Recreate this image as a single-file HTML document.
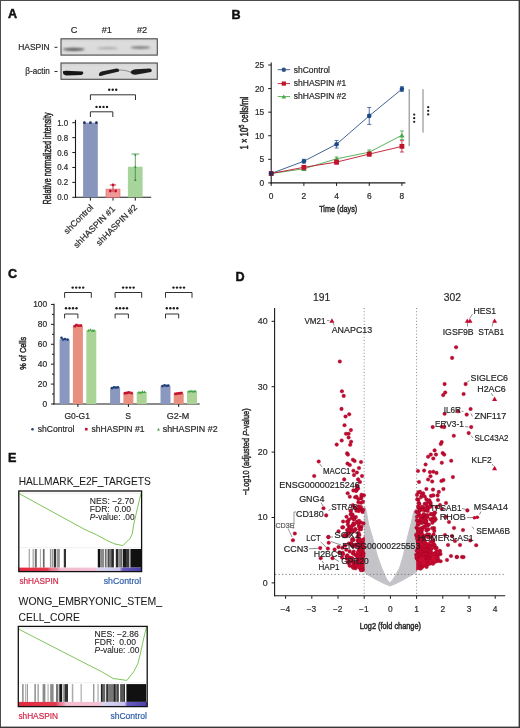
<!DOCTYPE html>
<html><head><meta charset="utf-8"><title>Figure</title>
<style>html,body{margin:0;padding:0;background:#fff;} svg{display:block;filter:blur(0.3px);} text{font-family:"Liberation Sans", sans-serif;}</style>
</head><body>
<svg width="520" height="728" viewBox="0 0 520 728" font-family='"Liberation Sans", sans-serif'>
<rect x="0" y="0" width="520" height="728" fill="#fff"/>
<text x="7.9" y="18.2" font-size="12.6" font-weight="bold" style="stroke:#111;stroke-width:0.45px" fill="#111">A</text>
<text x="74" y="32.6" font-size="9.2" text-anchor="middle" fill="#2a2a2a" stroke="#2a2a2a" stroke-width="0.2">C</text>
<text x="106.8" y="32.6" font-size="9.2" text-anchor="middle" fill="#2a2a2a" stroke="#2a2a2a" stroke-width="0.2">#1</text>
<text x="142" y="32.6" font-size="9.2" text-anchor="middle" fill="#2a2a2a" stroke="#2a2a2a" stroke-width="0.2">#2</text>
<text x="18.2" y="49.9" font-size="8.6" textLength="31.5" lengthAdjust="spacingAndGlyphs" fill="#2a2a2a" stroke="#2a2a2a" stroke-width="0.2">HASPIN</text>
<line x1="54.5" y1="47.3" x2="57.5" y2="47.3" stroke="#2a2a2a" stroke-width="1"/>
<text x="25.3" y="74.0" font-size="8.6" textLength="24.5" lengthAdjust="spacingAndGlyphs" fill="#2a2a2a" stroke="#2a2a2a" stroke-width="0.2">β-actin</text>
<line x1="54.5" y1="71.5" x2="57.5" y2="71.5" stroke="#2a2a2a" stroke-width="1"/>
<defs>
<linearGradient id="blotbg" x1="0" y1="0" x2="0" y2="1"><stop offset="0" stop-color="#d2d2d2"/><stop offset="0.25" stop-color="#dddddd"/><stop offset="1" stop-color="#dadada"/></linearGradient>
<filter id="bl1" x="-20%" y="-100%" width="140%" height="300%"><feGaussianBlur stdDeviation="0.9"/></filter>
<filter id="bl2" x="-20%" y="-100%" width="140%" height="300%"><feGaussianBlur stdDeviation="0.6"/></filter>
<filter id="soft" x="-5%" y="-5%" width="110%" height="110%"><feGaussianBlur stdDeviation="0.35"/></filter>
</defs>
<rect x="61" y="38.8" width="96.3" height="16.3" fill="url(#blotbg)" stroke="#4a4a4a" stroke-width="1.1"/>
<rect x="61" y="63.0" width="96.3" height="16.3" fill="url(#blotbg)" stroke="#4a4a4a" stroke-width="1.1"/>
<ellipse cx="73.8" cy="49.3" rx="11" ry="1.6" fill="#606060" filter="url(#bl1)"/>
<ellipse cx="107.5" cy="48.2" rx="10.5" ry="1.1" fill="#a8a8a8" filter="url(#bl1)"/>
<ellipse cx="140.5" cy="47.6" rx="10" ry="1.4" fill="#7c7c7c" filter="url(#bl1)"/>
<path d="M63 71.2 Q62.4 75.2 66.5 75.4 L81.5 75 Q84.5 73.5 82.5 71.6 L66 70.8 Z" fill="#161616" filter="url(#bl2)"/>
<path d="M99 75.6 Q98.4 72.6 101.5 71.4 L116.5 68.6 Q120 68.8 119 71.6 L104 75 Q100 76.4 99 75.6 Z" fill="#1c1c1c" filter="url(#bl2)"/>
<path d="M118.5 69.8 Q125 69.8 131 72.2" stroke="#7a7a7a" stroke-width="0.8" fill="none" filter="url(#bl2)"/>
<path d="M130.5 72.4 Q131.5 69.4 136 69.2 L150 68.6 Q153 70 151 72 L137 74.6 Q132 75.2 130.5 72.4 Z" fill="#1c1c1c" filter="url(#bl2)"/>
<line x1="75.5" y1="119.8" x2="75.5" y2="197.8" stroke="#1a1a1a" stroke-width="1.1"/>
<line x1="75.0" y1="197.3" x2="151.2" y2="197.3" stroke="#1a1a1a" stroke-width="1.1"/>
<line x1="72.3" y1="197.3" x2="75.5" y2="197.3" stroke="#1a1a1a" stroke-width="1"/>
<text x="68.2" y="200.3" font-size="8.4" text-anchor="end" textLength="11.0" lengthAdjust="spacingAndGlyphs" fill="#2a2a2a" stroke="#2a2a2a" stroke-width="0.2">0.0</text>
<line x1="72.3" y1="182.38000000000002" x2="75.5" y2="182.38000000000002" stroke="#1a1a1a" stroke-width="1"/>
<text x="68.2" y="185.38000000000002" font-size="8.4" text-anchor="end" textLength="11.0" lengthAdjust="spacingAndGlyphs" fill="#2a2a2a" stroke="#2a2a2a" stroke-width="0.2">0.2</text>
<line x1="72.3" y1="167.46" x2="75.5" y2="167.46" stroke="#1a1a1a" stroke-width="1"/>
<text x="68.2" y="170.46" font-size="8.4" text-anchor="end" textLength="11.0" lengthAdjust="spacingAndGlyphs" fill="#2a2a2a" stroke="#2a2a2a" stroke-width="0.2">0.4</text>
<line x1="72.3" y1="152.54000000000002" x2="75.5" y2="152.54000000000002" stroke="#1a1a1a" stroke-width="1"/>
<text x="68.2" y="155.54000000000002" font-size="8.4" text-anchor="end" textLength="11.0" lengthAdjust="spacingAndGlyphs" fill="#2a2a2a" stroke="#2a2a2a" stroke-width="0.2">0.6</text>
<line x1="72.3" y1="137.62" x2="75.5" y2="137.62" stroke="#1a1a1a" stroke-width="1"/>
<text x="68.2" y="140.62" font-size="8.4" text-anchor="end" textLength="11.0" lengthAdjust="spacingAndGlyphs" fill="#2a2a2a" stroke="#2a2a2a" stroke-width="0.2">0.8</text>
<line x1="72.3" y1="122.70000000000002" x2="75.5" y2="122.70000000000002" stroke="#1a1a1a" stroke-width="1"/>
<text x="68.2" y="125.70000000000002" font-size="8.4" text-anchor="end" textLength="11.0" lengthAdjust="spacingAndGlyphs" fill="#2a2a2a" stroke="#2a2a2a" stroke-width="0.2">1.0</text>
<line x1="90.4" y1="197.3" x2="90.4" y2="200.6" stroke="#1a1a1a" stroke-width="1"/>
<line x1="113" y1="197.3" x2="113" y2="200.6" stroke="#1a1a1a" stroke-width="1"/>
<line x1="135.3" y1="197.3" x2="135.3" y2="200.6" stroke="#1a1a1a" stroke-width="1"/>
<rect x="83.1" y="122.70000000000002" width="14.7" height="74.6" fill="#8895bd" stroke="none" stroke-width="0"/>
<rect x="106" y="189.09400000000002" width="14" height="8.205999999999989" fill="#ef9a9a" stroke="#e06060" stroke-width="0.6"/>
<rect x="127.9" y="166.71400000000003" width="14.7" height="30.585999999999984" fill="#a6d49a" stroke="none" stroke-width="0"/>
<circle cx="84.4" cy="122.7" r="1.35" fill="#1d2f5c"/>
<circle cx="90.4" cy="122.7" r="1.35" fill="#1d2f5c"/>
<circle cx="96.4" cy="122.7" r="1.35" fill="#1d2f5c"/>
<line x1="113" y1="184.991" x2="113" y2="192.078" stroke="#c0102a" stroke-width="0.8"/>
<line x1="109.8" y1="184.991" x2="116.2" y2="184.991" stroke="#c0102a" stroke-width="0.8"/>
<circle cx="113.0" cy="185.0" r="1.4" fill="#c0102a"/>
<circle cx="110.3" cy="191.0" r="1.4" fill="#c0102a"/>
<circle cx="115.7" cy="191.0" r="1.4" fill="#c0102a"/>
<line x1="135.3" y1="154.032" x2="135.3" y2="180.14200000000002" stroke="#3a8a3a" stroke-width="0.8"/>
<line x1="131.5" y1="154.032" x2="139.3" y2="154.032" stroke="#3a8a3a" stroke-width="0.8"/>
<path d="M134.0 167.8 L136.6 167.8 L135.3 165.6Z" fill="#3a8a3a"/>
<path d="M134.0 180.9 L136.6 180.9 L135.3 178.6Z" fill="#3a8a3a"/>
<path d="M134.1 155.8 L136.5 155.8 L135.3 153.7Z" fill="#3a8a3a"/>
<path d="M90.4 100.0 L90.4 94.8 L135.5 94.8 L135.5 100.0" fill="none" stroke="#1a1a1a" stroke-width="0.9"/>
<path d="M90.4 117.0 L90.4 111.8 L112.8 111.8 L112.8 117.0" fill="none" stroke="#1a1a1a" stroke-width="0.9"/>
<circle cx="109.2" cy="89.8" r="1.2" fill="#1a1a1a"/>
<circle cx="112.7" cy="89.8" r="1.2" fill="#1a1a1a"/>
<circle cx="116.2" cy="89.8" r="1.2" fill="#1a1a1a"/>
<circle cx="96.5" cy="106.9" r="1.2" fill="#1a1a1a"/>
<circle cx="100.0" cy="106.9" r="1.2" fill="#1a1a1a"/>
<circle cx="103.5" cy="106.9" r="1.2" fill="#1a1a1a"/>
<circle cx="107.0" cy="106.9" r="1.2" fill="#1a1a1a"/>
<text x="50.6" y="158.4" font-size="10.6" text-anchor="middle" textLength="92" lengthAdjust="spacingAndGlyphs" transform="rotate(-90 50.6 158.4)" style="stroke:#2a2a2a;stroke-width:0.5px" fill="#2a2a2a">Relative normalized intensity</text>
<text x="93.8" y="208.0" font-size="8.7" text-anchor="end" textLength="37.5" lengthAdjust="spacingAndGlyphs" transform="rotate(-45 93.8 208.0)" fill="#2a2a2a" stroke="#2a2a2a" stroke-width="0.2">shControl</text>
<text x="115.8" y="209.5" font-size="8.7" text-anchor="end" textLength="55" lengthAdjust="spacingAndGlyphs" transform="rotate(-45 115.8 209.5)" fill="#2a2a2a" stroke="#2a2a2a" stroke-width="0.2">shHASPIN #1</text>
<text x="137.6" y="208.0" font-size="8.7" text-anchor="end" textLength="54" lengthAdjust="spacingAndGlyphs" transform="rotate(-45 137.6 208.0)" fill="#2a2a2a" stroke="#2a2a2a" stroke-width="0.2">shHASPIN #2</text>
<text x="231.4" y="19.0" font-size="12.6" font-weight="bold" style="stroke:#111;stroke-width:0.45px" fill="#111">B</text>
<line x1="271.2" y1="62.5" x2="271.2" y2="183.4" stroke="#1a1a1a" stroke-width="1.1"/>
<line x1="270.7" y1="182.9" x2="405.4" y2="182.9" stroke="#1a1a1a" stroke-width="1.1"/>
<line x1="268.2" y1="182.9" x2="271.2" y2="182.9" stroke="#1a1a1a" stroke-width="1"/>
<text x="264.2" y="185.9" font-size="8.4" text-anchor="end" fill="#2a2a2a" stroke="#2a2a2a" stroke-width="0.2">0</text>
<line x1="268.2" y1="159.32" x2="271.2" y2="159.32" stroke="#1a1a1a" stroke-width="1"/>
<text x="264.2" y="162.32" font-size="8.4" text-anchor="end" fill="#2a2a2a" stroke="#2a2a2a" stroke-width="0.2">5</text>
<line x1="268.2" y1="135.74" x2="271.2" y2="135.74" stroke="#1a1a1a" stroke-width="1"/>
<text x="264.2" y="138.74" font-size="8.4" text-anchor="end" textLength="9.2" lengthAdjust="spacingAndGlyphs" fill="#2a2a2a" stroke="#2a2a2a" stroke-width="0.2">10</text>
<line x1="268.2" y1="112.16" x2="271.2" y2="112.16" stroke="#1a1a1a" stroke-width="1"/>
<text x="264.2" y="115.16" font-size="8.4" text-anchor="end" textLength="9.2" lengthAdjust="spacingAndGlyphs" fill="#2a2a2a" stroke="#2a2a2a" stroke-width="0.2">15</text>
<line x1="268.2" y1="88.58" x2="271.2" y2="88.58" stroke="#1a1a1a" stroke-width="1"/>
<text x="264.2" y="91.58" font-size="8.4" text-anchor="end" textLength="9.2" lengthAdjust="spacingAndGlyphs" fill="#2a2a2a" stroke="#2a2a2a" stroke-width="0.2">20</text>
<line x1="268.2" y1="65.0" x2="271.2" y2="65.0" stroke="#1a1a1a" stroke-width="1"/>
<text x="264.2" y="68.0" font-size="8.4" text-anchor="end" textLength="9.2" lengthAdjust="spacingAndGlyphs" fill="#2a2a2a" stroke="#2a2a2a" stroke-width="0.2">25</text>
<line x1="271.2" y1="182.9" x2="271.2" y2="185.9" stroke="#1a1a1a" stroke-width="1"/>
<text x="271.2" y="198.6" font-size="8.4" text-anchor="middle" fill="#2a2a2a" stroke="#2a2a2a" stroke-width="0.2">0</text>
<line x1="303.88" y1="182.9" x2="303.88" y2="185.9" stroke="#1a1a1a" stroke-width="1"/>
<text x="303.88" y="198.6" font-size="8.4" text-anchor="middle" fill="#2a2a2a" stroke="#2a2a2a" stroke-width="0.2">2</text>
<line x1="336.56" y1="182.9" x2="336.56" y2="185.9" stroke="#1a1a1a" stroke-width="1"/>
<text x="336.56" y="198.6" font-size="8.4" text-anchor="middle" fill="#2a2a2a" stroke="#2a2a2a" stroke-width="0.2">4</text>
<line x1="369.24" y1="182.9" x2="369.24" y2="185.9" stroke="#1a1a1a" stroke-width="1"/>
<text x="369.24" y="198.6" font-size="8.4" text-anchor="middle" fill="#2a2a2a" stroke="#2a2a2a" stroke-width="0.2">6</text>
<line x1="401.91999999999996" y1="182.9" x2="401.91999999999996" y2="185.9" stroke="#1a1a1a" stroke-width="1"/>
<text x="401.91999999999996" y="198.6" font-size="8.4" text-anchor="middle" fill="#2a2a2a" stroke="#2a2a2a" stroke-width="0.2">8</text>
<text x="338.2" y="212.2" font-size="9.8" text-anchor="middle" textLength="38" lengthAdjust="spacingAndGlyphs" style="stroke:#2a2a2a;stroke-width:0.5px" fill="#2a2a2a">Time (days)</text>
<text x="247.8" y="123.1" font-size="10.2" text-anchor="middle" transform="rotate(-90 247.8 123.1)" fill="#2a2a2a" stroke="#2a2a2a" stroke-width="0.5" textLength="52.8" lengthAdjust="spacingAndGlyphs">1 × 10<tspan font-size="7.4" dy="-3.8">5</tspan><tspan dy="3.8"> cells/ml</tspan></text>
<polyline points="271.2,173.5 303.9,161.2 336.6,144.2 369.2,115.9 401.9,89.1" fill="none" stroke="#2d5288" stroke-width="0.9"/>
<polyline points="271.2,173.5 303.9,168.8 336.6,158.8 369.2,152.2 401.9,135.3" fill="none" stroke="#4aa84a" stroke-width="0.9"/>
<polyline points="271.2,173.5 303.9,167.3 336.6,162.1 369.2,154.1 401.9,146.4" fill="none" stroke="#c0142c" stroke-width="0.9"/>
<circle cx="271.2" cy="173.5" r="2.3" fill="#1a4a88"/>
<line x1="303.88" y1="159.32" x2="303.88" y2="163.0928" stroke="#2d5288" stroke-width="0.8"/>
<line x1="301.88" y1="159.32" x2="305.88" y2="159.32" stroke="#2d5288" stroke-width="0.8"/>
<line x1="301.88" y1="163.0928" x2="305.88" y2="163.0928" stroke="#2d5288" stroke-width="0.8"/>
<circle cx="303.9" cy="161.2" r="2.3" fill="#1a4a88"/>
<line x1="336.56" y1="140.45600000000002" x2="336.56" y2="148.0016" stroke="#2d5288" stroke-width="0.8"/>
<line x1="334.56" y1="140.45600000000002" x2="338.56" y2="140.45600000000002" stroke="#2d5288" stroke-width="0.8"/>
<line x1="334.56" y1="148.0016" x2="338.56" y2="148.0016" stroke="#2d5288" stroke-width="0.8"/>
<circle cx="336.6" cy="144.2" r="2.3" fill="#1a4a88"/>
<line x1="369.24" y1="107.444" x2="369.24" y2="124.42160000000001" stroke="#2d5288" stroke-width="0.8"/>
<line x1="367.24" y1="107.444" x2="371.24" y2="107.444" stroke="#2d5288" stroke-width="0.8"/>
<line x1="367.24" y1="124.42160000000001" x2="371.24" y2="124.42160000000001" stroke="#2d5288" stroke-width="0.8"/>
<circle cx="369.2" cy="115.9" r="2.3" fill="#1a4a88"/>
<line x1="401.91999999999996" y1="86.6936" x2="401.91999999999996" y2="91.40960000000001" stroke="#2d5288" stroke-width="0.8"/>
<line x1="399.91999999999996" y1="86.6936" x2="403.91999999999996" y2="86.6936" stroke="#2d5288" stroke-width="0.8"/>
<line x1="399.91999999999996" y1="91.40960000000001" x2="403.91999999999996" y2="91.40960000000001" stroke="#2d5288" stroke-width="0.8"/>
<circle cx="401.9" cy="89.1" r="2.3" fill="#1a4a88"/>
<path d="M268.5 175.8 L273.9 175.8 L271.2 171.1Z" fill="#4aa84a"/>
<path d="M301.2 171.1 L306.6 171.1 L303.9 166.4Z" fill="#4aa84a"/>
<line x1="336.56" y1="156.962" x2="336.56" y2="160.7348" stroke="#4aa84a" stroke-width="0.8"/>
<line x1="334.56" y1="156.962" x2="338.56" y2="156.962" stroke="#4aa84a" stroke-width="0.8"/>
<line x1="334.56" y1="160.7348" x2="338.56" y2="160.7348" stroke="#4aa84a" stroke-width="0.8"/>
<path d="M333.9 161.2 L339.3 161.2 L336.6 156.5Z" fill="#4aa84a"/>
<line x1="369.24" y1="149.888" x2="369.24" y2="154.604" stroke="#4aa84a" stroke-width="0.8"/>
<line x1="367.24" y1="149.888" x2="371.24" y2="149.888" stroke="#4aa84a" stroke-width="0.8"/>
<line x1="367.24" y1="154.604" x2="371.24" y2="154.604" stroke="#4aa84a" stroke-width="0.8"/>
<path d="M366.5 154.6 L371.9 154.6 L369.2 149.9Z" fill="#4aa84a"/>
<line x1="401.91999999999996" y1="131.024" x2="401.91999999999996" y2="139.5128" stroke="#4aa84a" stroke-width="0.8"/>
<line x1="399.91999999999996" y1="131.024" x2="403.91999999999996" y2="131.024" stroke="#4aa84a" stroke-width="0.8"/>
<line x1="399.91999999999996" y1="139.5128" x2="403.91999999999996" y2="139.5128" stroke="#4aa84a" stroke-width="0.8"/>
<path d="M399.2 137.6 L404.6 137.6 L401.9 132.9Z" fill="#4aa84a"/>
<rect x="268.8" y="171.068" width="4.8" height="4.8" fill="#c0142c" stroke="none" stroke-width="0"/>
<line x1="303.88" y1="165.45080000000002" x2="303.88" y2="169.2236" stroke="#c0142c" stroke-width="0.8"/>
<line x1="301.88" y1="165.45080000000002" x2="305.88" y2="165.45080000000002" stroke="#c0142c" stroke-width="0.8"/>
<line x1="301.88" y1="169.2236" x2="305.88" y2="169.2236" stroke="#c0142c" stroke-width="0.8"/>
<rect x="301.48" y="164.9372" width="4.8" height="4.8" fill="#c0142c" stroke="none" stroke-width="0"/>
<line x1="336.56" y1="160.2632" x2="336.56" y2="164.036" stroke="#c0142c" stroke-width="0.8"/>
<line x1="334.56" y1="160.2632" x2="338.56" y2="160.2632" stroke="#c0142c" stroke-width="0.8"/>
<line x1="334.56" y1="164.036" x2="338.56" y2="164.036" stroke="#c0142c" stroke-width="0.8"/>
<rect x="334.16" y="159.7496" width="4.8" height="4.8" fill="#c0142c" stroke="none" stroke-width="0"/>
<line x1="369.24" y1="152.246" x2="369.24" y2="156.0188" stroke="#c0142c" stroke-width="0.8"/>
<line x1="367.24" y1="152.246" x2="371.24" y2="152.246" stroke="#c0142c" stroke-width="0.8"/>
<line x1="367.24" y1="156.0188" x2="371.24" y2="156.0188" stroke="#c0142c" stroke-width="0.8"/>
<rect x="366.84000000000003" y="151.7324" width="4.8" height="4.8" fill="#c0142c" stroke="none" stroke-width="0"/>
<line x1="401.91999999999996" y1="140.6918" x2="401.91999999999996" y2="152.0102" stroke="#c0142c" stroke-width="0.8"/>
<line x1="399.91999999999996" y1="140.6918" x2="403.91999999999996" y2="140.6918" stroke="#c0142c" stroke-width="0.8"/>
<line x1="399.91999999999996" y1="152.0102" x2="403.91999999999996" y2="152.0102" stroke="#c0142c" stroke-width="0.8"/>
<rect x="399.52" y="143.951" width="4.8" height="4.8" fill="#c0142c" stroke="none" stroke-width="0"/>
<circle cx="271.2" cy="173.5" r="2.3" fill="#2a2a5a"/>
<line x1="277.7" y1="69.7" x2="290.1" y2="69.7" stroke="#2d5288" stroke-width="0.9"/>
<circle cx="283.8" cy="69.7" r="2.2" fill="#2d5288"/>
<text x="293.8" y="72.5" font-size="8.4" textLength="36.2" lengthAdjust="spacingAndGlyphs" fill="#2a2a2a" stroke="#2a2a2a" stroke-width="0.2">shControl</text>
<line x1="277.7" y1="83.6" x2="290.1" y2="83.6" stroke="#c0142c" stroke-width="0.9"/>
<rect x="281.7" y="81.5" width="4.2" height="4.2" fill="#c0142c" stroke="none" stroke-width="0"/>
<text x="293.8" y="86.39999999999999" font-size="8.4" textLength="52.5" lengthAdjust="spacingAndGlyphs" fill="#2a2a2a" stroke="#2a2a2a" stroke-width="0.2">shHASPIN #1</text>
<line x1="277.7" y1="96.6" x2="290.1" y2="96.6" stroke="#4aa84a" stroke-width="0.9"/>
<path d="M281.5 98.6 L286.1 98.6 L283.8 94.6Z" fill="#4aa84a"/>
<text x="293.8" y="99.39999999999999" font-size="8.4" textLength="52.5" lengthAdjust="spacingAndGlyphs" fill="#2a2a2a" stroke="#2a2a2a" stroke-width="0.2">shHASPIN #2</text>
<line x1="409.2" y1="89.2" x2="409.2" y2="146.2" stroke="#3a3a3a" stroke-width="0.65"/>
<line x1="423" y1="89.2" x2="423" y2="132.6" stroke="#3a3a3a" stroke-width="0.65"/>
<circle cx="414.2" cy="114.6" r="1.15" fill="#222"/>
<circle cx="414.2" cy="118.2" r="1.15" fill="#222"/>
<circle cx="414.2" cy="121.8" r="1.15" fill="#222"/>
<circle cx="428.2" cy="107.2" r="1.15" fill="#222"/>
<circle cx="428.2" cy="110.8" r="1.15" fill="#222"/>
<circle cx="428.2" cy="114.4" r="1.15" fill="#222"/>
<text x="7.9" y="278.4" font-size="12.6" font-weight="bold" style="stroke:#111;stroke-width:0.45px" fill="#111">C</text>
<line x1="54.0" y1="303.8" x2="54.0" y2="404.5" stroke="#1a1a1a" stroke-width="1.1"/>
<line x1="53.5" y1="404.0" x2="199.7" y2="404.0" stroke="#1a1a1a" stroke-width="1.1"/>
<line x1="51.0" y1="404.0" x2="54.0" y2="404.0" stroke="#1a1a1a" stroke-width="1"/>
<text x="47.2" y="407.0" font-size="8.4" text-anchor="end" fill="#2a2a2a" stroke="#2a2a2a" stroke-width="0.2">0</text>
<line x1="52.0" y1="394.045" x2="54.0" y2="394.045" stroke="#1a1a1a" stroke-width="1"/>
<line x1="51.0" y1="384.09" x2="54.0" y2="384.09" stroke="#1a1a1a" stroke-width="1"/>
<text x="47.2" y="387.09" font-size="8.4" text-anchor="end" fill="#2a2a2a" stroke="#2a2a2a" stroke-width="0.2">20</text>
<line x1="52.0" y1="374.135" x2="54.0" y2="374.135" stroke="#1a1a1a" stroke-width="1"/>
<line x1="51.0" y1="364.18" x2="54.0" y2="364.18" stroke="#1a1a1a" stroke-width="1"/>
<text x="47.2" y="367.18" font-size="8.4" text-anchor="end" fill="#2a2a2a" stroke="#2a2a2a" stroke-width="0.2">40</text>
<line x1="52.0" y1="354.225" x2="54.0" y2="354.225" stroke="#1a1a1a" stroke-width="1"/>
<line x1="51.0" y1="344.27" x2="54.0" y2="344.27" stroke="#1a1a1a" stroke-width="1"/>
<text x="47.2" y="347.27" font-size="8.4" text-anchor="end" fill="#2a2a2a" stroke="#2a2a2a" stroke-width="0.2">60</text>
<line x1="52.0" y1="334.315" x2="54.0" y2="334.315" stroke="#1a1a1a" stroke-width="1"/>
<line x1="51.0" y1="324.36" x2="54.0" y2="324.36" stroke="#1a1a1a" stroke-width="1"/>
<text x="47.2" y="327.36" font-size="8.4" text-anchor="end" fill="#2a2a2a" stroke="#2a2a2a" stroke-width="0.2">80</text>
<line x1="52.0" y1="314.405" x2="54.0" y2="314.405" stroke="#1a1a1a" stroke-width="1"/>
<line x1="51.0" y1="304.45" x2="54.0" y2="304.45" stroke="#1a1a1a" stroke-width="1"/>
<text x="47.2" y="307.45" font-size="8.4" text-anchor="end" fill="#2a2a2a" stroke="#2a2a2a" stroke-width="0.2">100</text>
<rect x="59.599999999999994" y="339.2925" width="10" height="64.70749999999998" fill="#8a97bf" stroke="none" stroke-width="0"/>
<rect x="72.9" y="325.85325" width="10" height="78.14675" fill="#e88f80" stroke="none" stroke-width="0"/>
<rect x="86.3" y="330.33299999999997" width="10" height="73.66700000000003" fill="#a9d495" stroke="none" stroke-width="0"/>
<line x1="77.9" y1="404.0" x2="77.9" y2="407.0" stroke="#1a1a1a" stroke-width="1"/>
<rect x="110.1" y="388.072" width="10" height="15.927999999999997" fill="#8a97bf" stroke="none" stroke-width="0"/>
<rect x="123.4" y="393.0495" width="10" height="10.950499999999977" fill="#e88f80" stroke="none" stroke-width="0"/>
<rect x="136.7" y="392.054" width="10" height="11.946000000000026" fill="#a9d495" stroke="none" stroke-width="0"/>
<line x1="128.4" y1="404.0" x2="128.4" y2="407.0" stroke="#1a1a1a" stroke-width="1"/>
<rect x="160.5" y="386.081" width="10" height="17.918999999999983" fill="#8a97bf" stroke="none" stroke-width="0"/>
<rect x="173.7" y="393.54725" width="10" height="10.45274999999998" fill="#e88f80" stroke="none" stroke-width="0"/>
<rect x="187" y="391.0585" width="10" height="12.941500000000019" fill="#a9d495" stroke="none" stroke-width="0"/>
<line x1="178.7" y1="404.0" x2="178.7" y2="407.0" stroke="#1a1a1a" stroke-width="1"/>
<circle cx="61.5" cy="337.8" r="1.35" fill="#1f3f78"/>
<circle cx="63.0" cy="339.5" r="1.35" fill="#1f3f78"/>
<circle cx="65.0" cy="339.1" r="1.35" fill="#1f3f78"/>
<circle cx="67.5" cy="339.6" r="1.35" fill="#1f3f78"/>
<rect x="73.5" y="324.8519" width="2.6" height="2.6" fill="#c4122e" stroke="none" stroke-width="0"/>
<rect x="75.2" y="323.75685" width="2.6" height="2.6" fill="#c4122e" stroke="none" stroke-width="0"/>
<rect x="77.2" y="324.35414999999995" width="2.6" height="2.6" fill="#c4122e" stroke="none" stroke-width="0"/>
<rect x="79.5" y="324.2546" width="2.6" height="2.6" fill="#c4122e" stroke="none" stroke-width="0"/>
<path d="M87.0 331.6 L90.0 331.6 L88.5 329.0Z" fill="#3fa03f"/>
<path d="M89.0 330.8 L92.0 330.8 L90.5 328.2Z" fill="#3fa03f"/>
<path d="M91.0 331.8 L94.0 331.8 L92.5 329.2Z" fill="#3fa03f"/>
<path d="M92.5 331.5 L95.5 331.5 L94.0 328.9Z" fill="#3fa03f"/>
<circle cx="112.0" cy="388.1" r="1.35" fill="#1f3f78"/>
<circle cx="114.0" cy="387.3" r="1.35" fill="#1f3f78"/>
<circle cx="116.0" cy="387.6" r="1.35" fill="#1f3f78"/>
<circle cx="118.0" cy="387.3" r="1.35" fill="#1f3f78"/>
<rect x="123.7" y="391.9486" width="2.6" height="2.6" fill="#c4122e" stroke="none" stroke-width="0"/>
<rect x="125.7" y="391.55039999999997" width="2.6" height="2.6" fill="#c4122e" stroke="none" stroke-width="0"/>
<rect x="127.7" y="391.1522" width="2.6" height="2.6" fill="#c4122e" stroke="none" stroke-width="0"/>
<rect x="130.2" y="391.7495" width="2.6" height="2.6" fill="#c4122e" stroke="none" stroke-width="0"/>
<path d="M137.5 393.4 L140.5 393.4 L139.0 390.7Z" fill="#3fa03f"/>
<path d="M139.5 393.6 L142.5 393.6 L141.0 390.9Z" fill="#3fa03f"/>
<path d="M141.1 392.9 L144.1 392.9 L142.6 390.3Z" fill="#3fa03f"/>
<path d="M143.1 393.1 L146.1 393.1 L144.6 390.5Z" fill="#3fa03f"/>
<circle cx="162.5" cy="386.1" r="1.35" fill="#1f3f78"/>
<circle cx="164.5" cy="385.3" r="1.35" fill="#1f3f78"/>
<circle cx="166.5" cy="385.8" r="1.35" fill="#1f3f78"/>
<circle cx="168.3" cy="385.6" r="1.35" fill="#1f3f78"/>
<rect x="174.2" y="392.5459" width="2.6" height="2.6" fill="#c4122e" stroke="none" stroke-width="0"/>
<rect x="176.2" y="392.24725" width="2.6" height="2.6" fill="#c4122e" stroke="none" stroke-width="0"/>
<rect x="178.2" y="391.9486" width="2.6" height="2.6" fill="#c4122e" stroke="none" stroke-width="0"/>
<rect x="180.2" y="391.7495" width="2.6" height="2.6" fill="#c4122e" stroke="none" stroke-width="0"/>
<path d="M187.5 392.4 L190.5 392.4 L189.0 389.8Z" fill="#3fa03f"/>
<path d="M189.5 392.1 L192.5 392.1 L191.0 389.5Z" fill="#3fa03f"/>
<path d="M191.5 392.4 L194.5 392.4 L193.0 389.8Z" fill="#3fa03f"/>
<path d="M193.5 392.2 L196.5 392.2 L195.0 389.6Z" fill="#3fa03f"/>
<path d="M64.6 297.8 L64.6 292.5 L91.3 292.5 L91.3 297.8" fill="none" stroke="#1a1a1a" stroke-width="0.9"/>
<path d="M64.6 318.4 L64.6 314.0 L77.9 314.0 L77.9 318.4" fill="none" stroke="#1a1a1a" stroke-width="0.9"/>
<circle cx="72.7" cy="287.6" r="1.2" fill="#1a1a1a"/>
<circle cx="76.2" cy="287.6" r="1.2" fill="#1a1a1a"/>
<circle cx="79.7" cy="287.6" r="1.2" fill="#1a1a1a"/>
<circle cx="83.2" cy="287.6" r="1.2" fill="#1a1a1a"/>
<circle cx="66.0" cy="308.3" r="1.2" fill="#1a1a1a"/>
<circle cx="69.5" cy="308.3" r="1.2" fill="#1a1a1a"/>
<circle cx="73.0" cy="308.3" r="1.2" fill="#1a1a1a"/>
<circle cx="76.5" cy="308.3" r="1.2" fill="#1a1a1a"/>
<path d="M115.1 297.8 L115.1 292.5 L141.7 292.5 L141.7 297.8" fill="none" stroke="#1a1a1a" stroke-width="0.9"/>
<path d="M115.1 318.4 L115.1 314.0 L128.4 314.0 L128.4 318.4" fill="none" stroke="#1a1a1a" stroke-width="0.9"/>
<circle cx="123.1" cy="287.6" r="1.2" fill="#1a1a1a"/>
<circle cx="126.6" cy="287.6" r="1.2" fill="#1a1a1a"/>
<circle cx="130.1" cy="287.6" r="1.2" fill="#1a1a1a"/>
<circle cx="133.6" cy="287.6" r="1.2" fill="#1a1a1a"/>
<circle cx="116.5" cy="308.3" r="1.2" fill="#1a1a1a"/>
<circle cx="120.0" cy="308.3" r="1.2" fill="#1a1a1a"/>
<circle cx="123.5" cy="308.3" r="1.2" fill="#1a1a1a"/>
<circle cx="127.0" cy="308.3" r="1.2" fill="#1a1a1a"/>
<path d="M165.5 297.8 L165.5 292.5 L192 292.5 L192 297.8" fill="none" stroke="#1a1a1a" stroke-width="0.9"/>
<path d="M165.5 318.4 L165.5 314.0 L178.7 314.0 L178.7 318.4" fill="none" stroke="#1a1a1a" stroke-width="0.9"/>
<circle cx="173.5" cy="287.6" r="1.2" fill="#1a1a1a"/>
<circle cx="177.0" cy="287.6" r="1.2" fill="#1a1a1a"/>
<circle cx="180.5" cy="287.6" r="1.2" fill="#1a1a1a"/>
<circle cx="184.0" cy="287.6" r="1.2" fill="#1a1a1a"/>
<circle cx="166.8" cy="308.3" r="1.2" fill="#1a1a1a"/>
<circle cx="170.3" cy="308.3" r="1.2" fill="#1a1a1a"/>
<circle cx="173.8" cy="308.3" r="1.2" fill="#1a1a1a"/>
<circle cx="177.3" cy="308.3" r="1.2" fill="#1a1a1a"/>
<text x="77.2" y="418.7" font-size="8.6" text-anchor="middle" textLength="25.5" lengthAdjust="spacingAndGlyphs" fill="#2a2a2a" stroke="#2a2a2a" stroke-width="0.2">G0-G1</text>
<text x="128" y="418.7" font-size="8.6" text-anchor="middle" fill="#2a2a2a" stroke="#2a2a2a" stroke-width="0.2">S</text>
<text x="177.9" y="418.7" font-size="8.6" text-anchor="middle" textLength="22.5" lengthAdjust="spacingAndGlyphs" fill="#2a2a2a" stroke="#2a2a2a" stroke-width="0.2">G2-M</text>
<circle cx="32.5" cy="429.2" r="1.3" fill="#1f3f78"/>
<text x="37.7" y="432.1" font-size="8.6" textLength="36.6" lengthAdjust="spacingAndGlyphs" fill="#2a2a2a" stroke="#2a2a2a" stroke-width="0.2">shControl</text>
<rect x="85.0" y="427.9" width="2.6" height="2.6" fill="#c4122e" stroke="none" stroke-width="0"/>
<text x="91.5" y="432.1" font-size="8.6" textLength="53" lengthAdjust="spacingAndGlyphs" fill="#2a2a2a" stroke="#2a2a2a" stroke-width="0.2">shHASPIN #1</text>
<path d="M157.0 430.5 L160.0 430.5 L158.5 427.9Z" fill="#3fa03f"/>
<text x="162.7" y="432.1" font-size="8.6" textLength="55" lengthAdjust="spacingAndGlyphs" fill="#2a2a2a" stroke="#2a2a2a" stroke-width="0.2">shHASPIN #2</text>
<text x="25.6" y="353.3" font-size="9.8" text-anchor="middle" textLength="33" lengthAdjust="spacingAndGlyphs" transform="rotate(-90 25.6 353.3)" style="stroke:#2a2a2a;stroke-width:0.5px" fill="#2a2a2a">% of Cells</text>
<text x="235.6" y="280.9" font-size="12.6" font-weight="bold" style="stroke:#111;stroke-width:0.45px" fill="#111">D</text>
<path stroke="#c4c4c8" stroke-width="1" stroke-linejoin="round" d="M364.4 506 L366 510 L368.7 525 L372.4 537 L377.3 555.7 L381.7 568 L386.6 579 L389.8 583 L393.4 579 L399.6 568 L403.3 555.7 L407.6 537 L410.7 525 L413.8 512 L416.6 508 L416.6 572 L410 576 L402 580.5 L396 583.5 L390 586 L384 583.5 L376 579.5 L368 575 L364.4 572 Z" fill="#c4c4c8"/>
<line x1="364.2" y1="308" x2="364.2" y2="595" stroke="#777" stroke-width="0.9" stroke-dasharray="1 2.2"/>
<line x1="416.6" y1="308" x2="416.6" y2="595" stroke="#777" stroke-width="0.9" stroke-dasharray="1 2.2"/>
<line x1="275" y1="574.4" x2="504" y2="574.4" stroke="#777" stroke-width="0.9" stroke-dasharray="1.3 2.2"/>
<path d="M361 540 L364.6 536 L364.6 570 L359 570 L355 565 L356 552 Z" fill="#cc0a30"/>
<path d="M416.2 530 L422 528 L426 540 L431 550 L439 556 L440 562 L416.2 570.5 Z" fill="#cc0a30"/>
<circle cx="356.2" cy="490.4" r="1.8" fill="#c40a30" stroke="#98001f" stroke-width="0.35"/>
<circle cx="353.0" cy="516.5" r="1.8" fill="#c40a30" stroke="#98001f" stroke-width="0.35"/>
<circle cx="349.9" cy="557.6" r="1.8" fill="#c40a30" stroke="#98001f" stroke-width="0.35"/>
<circle cx="355.6" cy="568.3" r="1.8" fill="#c40a30" stroke="#98001f" stroke-width="0.35"/>
<circle cx="354.2" cy="519.3" r="1.8" fill="#c40a30" stroke="#98001f" stroke-width="0.35"/>
<circle cx="362.0" cy="509.8" r="1.8" fill="#c40a30" stroke="#98001f" stroke-width="0.35"/>
<circle cx="346.6" cy="556.6" r="1.8" fill="#c40a30" stroke="#98001f" stroke-width="0.35"/>
<circle cx="355.9" cy="517.1" r="1.8" fill="#c40a30" stroke="#98001f" stroke-width="0.35"/>
<circle cx="357.1" cy="522.1" r="1.8" fill="#c40a30" stroke="#98001f" stroke-width="0.35"/>
<circle cx="346.8" cy="536.1" r="1.8" fill="#c40a30" stroke="#98001f" stroke-width="0.35"/>
<circle cx="350.7" cy="510.7" r="1.8" fill="#c40a30" stroke="#98001f" stroke-width="0.35"/>
<circle cx="360.2" cy="546.2" r="1.8" fill="#c40a30" stroke="#98001f" stroke-width="0.35"/>
<circle cx="344.8" cy="535.1" r="1.8" fill="#c40a30" stroke="#98001f" stroke-width="0.35"/>
<circle cx="352.7" cy="561.9" r="1.8" fill="#c40a30" stroke="#98001f" stroke-width="0.35"/>
<circle cx="358.4" cy="509.6" r="1.8" fill="#c40a30" stroke="#98001f" stroke-width="0.35"/>
<circle cx="349.7" cy="551.4" r="1.8" fill="#c40a30" stroke="#98001f" stroke-width="0.35"/>
<circle cx="359.4" cy="535.0" r="1.8" fill="#c40a30" stroke="#98001f" stroke-width="0.35"/>
<circle cx="362.5" cy="511.9" r="1.8" fill="#c40a30" stroke="#98001f" stroke-width="0.35"/>
<circle cx="357.5" cy="536.9" r="1.8" fill="#c40a30" stroke="#98001f" stroke-width="0.35"/>
<circle cx="354.2" cy="524.6" r="1.8" fill="#c40a30" stroke="#98001f" stroke-width="0.35"/>
<circle cx="361.5" cy="568.1" r="1.8" fill="#c40a30" stroke="#98001f" stroke-width="0.35"/>
<circle cx="351.3" cy="543.1" r="1.8" fill="#c40a30" stroke="#98001f" stroke-width="0.35"/>
<circle cx="361.0" cy="509.3" r="1.8" fill="#c40a30" stroke="#98001f" stroke-width="0.35"/>
<circle cx="348.8" cy="543.5" r="1.8" fill="#c40a30" stroke="#98001f" stroke-width="0.35"/>
<circle cx="348.9" cy="561.6" r="1.8" fill="#c40a30" stroke="#98001f" stroke-width="0.35"/>
<circle cx="353.4" cy="562.6" r="1.8" fill="#c40a30" stroke="#98001f" stroke-width="0.35"/>
<circle cx="360.9" cy="560.9" r="1.8" fill="#c40a30" stroke="#98001f" stroke-width="0.35"/>
<circle cx="348.0" cy="562.7" r="1.8" fill="#c40a30" stroke="#98001f" stroke-width="0.35"/>
<circle cx="354.5" cy="507.4" r="1.8" fill="#c40a30" stroke="#98001f" stroke-width="0.35"/>
<circle cx="348.3" cy="534.4" r="1.8" fill="#c40a30" stroke="#98001f" stroke-width="0.35"/>
<circle cx="352.4" cy="539.0" r="1.8" fill="#c40a30" stroke="#98001f" stroke-width="0.35"/>
<circle cx="356.9" cy="488.8" r="1.8" fill="#c40a30" stroke="#98001f" stroke-width="0.35"/>
<circle cx="363.2" cy="553.4" r="1.8" fill="#c40a30" stroke="#98001f" stroke-width="0.35"/>
<circle cx="362.5" cy="555.0" r="1.8" fill="#c40a30" stroke="#98001f" stroke-width="0.35"/>
<circle cx="349.0" cy="519.5" r="1.8" fill="#c40a30" stroke="#98001f" stroke-width="0.35"/>
<circle cx="355.2" cy="497.2" r="1.8" fill="#c40a30" stroke="#98001f" stroke-width="0.35"/>
<circle cx="351.0" cy="527.1" r="1.8" fill="#c40a30" stroke="#98001f" stroke-width="0.35"/>
<circle cx="361.2" cy="498.4" r="1.8" fill="#c40a30" stroke="#98001f" stroke-width="0.35"/>
<circle cx="362.2" cy="546.0" r="1.8" fill="#c40a30" stroke="#98001f" stroke-width="0.35"/>
<circle cx="342.7" cy="552.7" r="1.8" fill="#c40a30" stroke="#98001f" stroke-width="0.35"/>
<circle cx="352.9" cy="553.3" r="1.8" fill="#c40a30" stroke="#98001f" stroke-width="0.35"/>
<circle cx="361.9" cy="555.7" r="1.8" fill="#c40a30" stroke="#98001f" stroke-width="0.35"/>
<circle cx="360.9" cy="549.8" r="1.8" fill="#c40a30" stroke="#98001f" stroke-width="0.35"/>
<circle cx="345.3" cy="545.6" r="1.8" fill="#c40a30" stroke="#98001f" stroke-width="0.35"/>
<circle cx="355.5" cy="564.1" r="1.8" fill="#c40a30" stroke="#98001f" stroke-width="0.35"/>
<circle cx="361.5" cy="526.7" r="1.8" fill="#c40a30" stroke="#98001f" stroke-width="0.35"/>
<circle cx="356.3" cy="555.2" r="1.8" fill="#c40a30" stroke="#98001f" stroke-width="0.35"/>
<circle cx="363.5" cy="553.6" r="1.8" fill="#c40a30" stroke="#98001f" stroke-width="0.35"/>
<circle cx="359.0" cy="526.5" r="1.8" fill="#c40a30" stroke="#98001f" stroke-width="0.35"/>
<circle cx="343.0" cy="554.2" r="1.8" fill="#c40a30" stroke="#98001f" stroke-width="0.35"/>
<circle cx="347.3" cy="555.3" r="1.8" fill="#c40a30" stroke="#98001f" stroke-width="0.35"/>
<circle cx="358.3" cy="499.1" r="1.8" fill="#c40a30" stroke="#98001f" stroke-width="0.35"/>
<circle cx="363.3" cy="555.8" r="1.8" fill="#c40a30" stroke="#98001f" stroke-width="0.35"/>
<circle cx="342.1" cy="557.6" r="1.8" fill="#c40a30" stroke="#98001f" stroke-width="0.35"/>
<circle cx="347.8" cy="532.8" r="1.8" fill="#c40a30" stroke="#98001f" stroke-width="0.35"/>
<circle cx="352.7" cy="567.1" r="1.8" fill="#c40a30" stroke="#98001f" stroke-width="0.35"/>
<circle cx="350.1" cy="561.6" r="1.8" fill="#c40a30" stroke="#98001f" stroke-width="0.35"/>
<circle cx="361.1" cy="502.8" r="1.8" fill="#c40a30" stroke="#98001f" stroke-width="0.35"/>
<circle cx="344.7" cy="536.2" r="1.8" fill="#c40a30" stroke="#98001f" stroke-width="0.35"/>
<circle cx="347.9" cy="524.8" r="1.8" fill="#c40a30" stroke="#98001f" stroke-width="0.35"/>
<circle cx="354.3" cy="564.5" r="1.8" fill="#c40a30" stroke="#98001f" stroke-width="0.35"/>
<circle cx="349.8" cy="565.7" r="1.8" fill="#c40a30" stroke="#98001f" stroke-width="0.35"/>
<circle cx="352.0" cy="531.3" r="1.8" fill="#c40a30" stroke="#98001f" stroke-width="0.35"/>
<circle cx="358.3" cy="533.5" r="1.8" fill="#c40a30" stroke="#98001f" stroke-width="0.35"/>
<circle cx="347.1" cy="530.1" r="1.8" fill="#c40a30" stroke="#98001f" stroke-width="0.35"/>
<circle cx="353.6" cy="553.8" r="1.8" fill="#c40a30" stroke="#98001f" stroke-width="0.35"/>
<circle cx="359.6" cy="529.2" r="1.8" fill="#c40a30" stroke="#98001f" stroke-width="0.35"/>
<circle cx="353.7" cy="551.6" r="1.8" fill="#c40a30" stroke="#98001f" stroke-width="0.35"/>
<circle cx="363.5" cy="523.4" r="1.8" fill="#c40a30" stroke="#98001f" stroke-width="0.35"/>
<circle cx="355.2" cy="529.0" r="1.8" fill="#c40a30" stroke="#98001f" stroke-width="0.35"/>
<circle cx="352.3" cy="545.7" r="1.8" fill="#c40a30" stroke="#98001f" stroke-width="0.35"/>
<circle cx="350.7" cy="531.5" r="1.8" fill="#c40a30" stroke="#98001f" stroke-width="0.35"/>
<circle cx="357.6" cy="562.0" r="1.8" fill="#c40a30" stroke="#98001f" stroke-width="0.35"/>
<circle cx="353.7" cy="568.0" r="1.8" fill="#c40a30" stroke="#98001f" stroke-width="0.35"/>
<circle cx="361.5" cy="496.2" r="1.8" fill="#c40a30" stroke="#98001f" stroke-width="0.35"/>
<circle cx="360.0" cy="563.8" r="1.8" fill="#c40a30" stroke="#98001f" stroke-width="0.35"/>
<circle cx="342.3" cy="547.7" r="1.8" fill="#c40a30" stroke="#98001f" stroke-width="0.35"/>
<circle cx="356.5" cy="496.7" r="1.8" fill="#c40a30" stroke="#98001f" stroke-width="0.35"/>
<circle cx="362.7" cy="570.1" r="1.8" fill="#c40a30" stroke="#98001f" stroke-width="0.35"/>
<circle cx="349.2" cy="527.4" r="1.8" fill="#c40a30" stroke="#98001f" stroke-width="0.35"/>
<circle cx="352.4" cy="514.2" r="1.8" fill="#c40a30" stroke="#98001f" stroke-width="0.35"/>
<circle cx="353.5" cy="523.2" r="1.8" fill="#c40a30" stroke="#98001f" stroke-width="0.35"/>
<circle cx="355.5" cy="529.6" r="1.8" fill="#c40a30" stroke="#98001f" stroke-width="0.35"/>
<circle cx="349.8" cy="565.1" r="1.8" fill="#c40a30" stroke="#98001f" stroke-width="0.35"/>
<circle cx="360.9" cy="507.0" r="1.8" fill="#c40a30" stroke="#98001f" stroke-width="0.35"/>
<circle cx="354.0" cy="546.3" r="1.8" fill="#c40a30" stroke="#98001f" stroke-width="0.35"/>
<circle cx="357.3" cy="521.9" r="1.8" fill="#c40a30" stroke="#98001f" stroke-width="0.35"/>
<circle cx="355.8" cy="555.3" r="1.8" fill="#c40a30" stroke="#98001f" stroke-width="0.35"/>
<circle cx="350.7" cy="514.2" r="1.8" fill="#c40a30" stroke="#98001f" stroke-width="0.35"/>
<circle cx="353.5" cy="566.5" r="1.8" fill="#c40a30" stroke="#98001f" stroke-width="0.35"/>
<circle cx="352.8" cy="505.2" r="1.8" fill="#c40a30" stroke="#98001f" stroke-width="0.35"/>
<circle cx="359.3" cy="509.8" r="1.8" fill="#c40a30" stroke="#98001f" stroke-width="0.35"/>
<circle cx="358.5" cy="533.0" r="1.8" fill="#c40a30" stroke="#98001f" stroke-width="0.35"/>
<circle cx="360.9" cy="522.5" r="1.8" fill="#c40a30" stroke="#98001f" stroke-width="0.35"/>
<circle cx="351.9" cy="558.3" r="1.8" fill="#c40a30" stroke="#98001f" stroke-width="0.35"/>
<circle cx="349.0" cy="529.1" r="1.8" fill="#c40a30" stroke="#98001f" stroke-width="0.35"/>
<circle cx="347.6" cy="558.1" r="1.8" fill="#c40a30" stroke="#98001f" stroke-width="0.35"/>
<circle cx="357.8" cy="540.6" r="1.8" fill="#c40a30" stroke="#98001f" stroke-width="0.35"/>
<circle cx="362.4" cy="543.7" r="1.8" fill="#c40a30" stroke="#98001f" stroke-width="0.35"/>
<circle cx="351.3" cy="528.7" r="1.8" fill="#c40a30" stroke="#98001f" stroke-width="0.35"/>
<circle cx="354.4" cy="531.1" r="1.8" fill="#c40a30" stroke="#98001f" stroke-width="0.35"/>
<circle cx="359.0" cy="542.5" r="1.8" fill="#c40a30" stroke="#98001f" stroke-width="0.35"/>
<circle cx="358.0" cy="562.2" r="1.8" fill="#c40a30" stroke="#98001f" stroke-width="0.35"/>
<circle cx="358.3" cy="541.2" r="1.8" fill="#c40a30" stroke="#98001f" stroke-width="0.35"/>
<circle cx="363.0" cy="539.8" r="1.8" fill="#c40a30" stroke="#98001f" stroke-width="0.35"/>
<circle cx="358.5" cy="556.3" r="1.8" fill="#c40a30" stroke="#98001f" stroke-width="0.35"/>
<circle cx="352.1" cy="558.3" r="1.8" fill="#c40a30" stroke="#98001f" stroke-width="0.35"/>
<circle cx="360.5" cy="557.6" r="1.8" fill="#c40a30" stroke="#98001f" stroke-width="0.35"/>
<circle cx="354.4" cy="563.5" r="1.8" fill="#c40a30" stroke="#98001f" stroke-width="0.35"/>
<circle cx="357.1" cy="545.7" r="1.8" fill="#c40a30" stroke="#98001f" stroke-width="0.35"/>
<circle cx="353.6" cy="539.9" r="1.8" fill="#c40a30" stroke="#98001f" stroke-width="0.35"/>
<circle cx="355.5" cy="544.6" r="1.8" fill="#c40a30" stroke="#98001f" stroke-width="0.35"/>
<circle cx="360.3" cy="550.6" r="1.8" fill="#c40a30" stroke="#98001f" stroke-width="0.35"/>
<circle cx="352.1" cy="531.6" r="1.8" fill="#c40a30" stroke="#98001f" stroke-width="0.35"/>
<circle cx="356.5" cy="489.9" r="1.8" fill="#c40a30" stroke="#98001f" stroke-width="0.35"/>
<circle cx="358.6" cy="506.4" r="1.8" fill="#c40a30" stroke="#98001f" stroke-width="0.35"/>
<circle cx="358.4" cy="502.3" r="1.8" fill="#c40a30" stroke="#98001f" stroke-width="0.35"/>
<circle cx="351.8" cy="518.0" r="1.8" fill="#c40a30" stroke="#98001f" stroke-width="0.35"/>
<circle cx="351.4" cy="544.8" r="1.8" fill="#c40a30" stroke="#98001f" stroke-width="0.35"/>
<circle cx="359.5" cy="538.9" r="1.8" fill="#c40a30" stroke="#98001f" stroke-width="0.35"/>
<circle cx="356.0" cy="490.9" r="1.8" fill="#c40a30" stroke="#98001f" stroke-width="0.35"/>
<circle cx="358.8" cy="511.1" r="1.8" fill="#c40a30" stroke="#98001f" stroke-width="0.35"/>
<circle cx="356.8" cy="545.6" r="1.8" fill="#c40a30" stroke="#98001f" stroke-width="0.35"/>
<circle cx="356.9" cy="509.9" r="1.8" fill="#c40a30" stroke="#98001f" stroke-width="0.35"/>
<circle cx="352.5" cy="525.4" r="1.8" fill="#c40a30" stroke="#98001f" stroke-width="0.35"/>
<circle cx="363.0" cy="501.7" r="1.8" fill="#c40a30" stroke="#98001f" stroke-width="0.35"/>
<circle cx="361.0" cy="570.2" r="1.8" fill="#c40a30" stroke="#98001f" stroke-width="0.35"/>
<circle cx="343.9" cy="535.8" r="1.8" fill="#c40a30" stroke="#98001f" stroke-width="0.35"/>
<circle cx="361.0" cy="529.3" r="1.8" fill="#c40a30" stroke="#98001f" stroke-width="0.35"/>
<circle cx="362.8" cy="546.6" r="1.8" fill="#c40a30" stroke="#98001f" stroke-width="0.35"/>
<circle cx="350.6" cy="510.9" r="1.8" fill="#c40a30" stroke="#98001f" stroke-width="0.35"/>
<circle cx="346.9" cy="558.8" r="1.8" fill="#c40a30" stroke="#98001f" stroke-width="0.35"/>
<circle cx="361.5" cy="494.7" r="1.8" fill="#c40a30" stroke="#98001f" stroke-width="0.35"/>
<circle cx="363.9" cy="547.5" r="1.8" fill="#c40a30" stroke="#98001f" stroke-width="0.35"/>
<circle cx="363.2" cy="509.8" r="1.8" fill="#c40a30" stroke="#98001f" stroke-width="0.35"/>
<circle cx="348.1" cy="522.1" r="1.8" fill="#c40a30" stroke="#98001f" stroke-width="0.35"/>
<circle cx="362.8" cy="556.3" r="1.8" fill="#c40a30" stroke="#98001f" stroke-width="0.35"/>
<circle cx="355.7" cy="565.3" r="1.8" fill="#c40a30" stroke="#98001f" stroke-width="0.35"/>
<circle cx="358.1" cy="488.4" r="1.8" fill="#c40a30" stroke="#98001f" stroke-width="0.35"/>
<circle cx="358.5" cy="524.1" r="1.8" fill="#c40a30" stroke="#98001f" stroke-width="0.35"/>
<circle cx="359.1" cy="541.4" r="1.8" fill="#c40a30" stroke="#98001f" stroke-width="0.35"/>
<circle cx="363.9" cy="495.3" r="1.8" fill="#c40a30" stroke="#98001f" stroke-width="0.35"/>
<circle cx="351.2" cy="514.6" r="1.8" fill="#c40a30" stroke="#98001f" stroke-width="0.35"/>
<circle cx="346.3" cy="549.8" r="1.8" fill="#c40a30" stroke="#98001f" stroke-width="0.35"/>
<circle cx="356.4" cy="510.8" r="1.8" fill="#c40a30" stroke="#98001f" stroke-width="0.35"/>
<circle cx="353.6" cy="519.1" r="1.8" fill="#c40a30" stroke="#98001f" stroke-width="0.35"/>
<circle cx="353.9" cy="563.0" r="1.8" fill="#c40a30" stroke="#98001f" stroke-width="0.35"/>
<circle cx="359.0" cy="520.7" r="1.8" fill="#c40a30" stroke="#98001f" stroke-width="0.35"/>
<circle cx="349.6" cy="530.7" r="1.8" fill="#c40a30" stroke="#98001f" stroke-width="0.35"/>
<circle cx="352.1" cy="540.0" r="1.8" fill="#c40a30" stroke="#98001f" stroke-width="0.35"/>
<circle cx="423.4" cy="507.9" r="1.8" fill="#c40a30" stroke="#98001f" stroke-width="0.35"/>
<circle cx="427.4" cy="525.2" r="1.8" fill="#c40a30" stroke="#98001f" stroke-width="0.35"/>
<circle cx="440.6" cy="561.3" r="1.8" fill="#c40a30" stroke="#98001f" stroke-width="0.35"/>
<circle cx="418.4" cy="499.6" r="1.8" fill="#c40a30" stroke="#98001f" stroke-width="0.35"/>
<circle cx="431.2" cy="546.0" r="1.8" fill="#c40a30" stroke="#98001f" stroke-width="0.35"/>
<circle cx="435.1" cy="553.3" r="1.8" fill="#c40a30" stroke="#98001f" stroke-width="0.35"/>
<circle cx="429.2" cy="534.5" r="1.8" fill="#c40a30" stroke="#98001f" stroke-width="0.35"/>
<circle cx="416.2" cy="554.8" r="1.8" fill="#c40a30" stroke="#98001f" stroke-width="0.35"/>
<circle cx="422.2" cy="567.0" r="1.8" fill="#c40a30" stroke="#98001f" stroke-width="0.35"/>
<circle cx="435.0" cy="512.7" r="1.8" fill="#c40a30" stroke="#98001f" stroke-width="0.35"/>
<circle cx="419.0" cy="508.2" r="1.8" fill="#c40a30" stroke="#98001f" stroke-width="0.35"/>
<circle cx="434.7" cy="547.5" r="1.8" fill="#c40a30" stroke="#98001f" stroke-width="0.35"/>
<circle cx="418.5" cy="492.2" r="1.8" fill="#c40a30" stroke="#98001f" stroke-width="0.35"/>
<circle cx="431.3" cy="537.3" r="1.8" fill="#c40a30" stroke="#98001f" stroke-width="0.35"/>
<circle cx="427.0" cy="505.7" r="1.8" fill="#c40a30" stroke="#98001f" stroke-width="0.35"/>
<circle cx="424.3" cy="526.5" r="1.8" fill="#c40a30" stroke="#98001f" stroke-width="0.35"/>
<circle cx="422.3" cy="507.7" r="1.8" fill="#c40a30" stroke="#98001f" stroke-width="0.35"/>
<circle cx="430.4" cy="545.4" r="1.8" fill="#c40a30" stroke="#98001f" stroke-width="0.35"/>
<circle cx="428.0" cy="508.6" r="1.8" fill="#c40a30" stroke="#98001f" stroke-width="0.35"/>
<circle cx="425.5" cy="523.0" r="1.8" fill="#c40a30" stroke="#98001f" stroke-width="0.35"/>
<circle cx="439.7" cy="551.0" r="1.8" fill="#c40a30" stroke="#98001f" stroke-width="0.35"/>
<circle cx="430.7" cy="504.1" r="1.8" fill="#c40a30" stroke="#98001f" stroke-width="0.35"/>
<circle cx="421.9" cy="552.9" r="1.8" fill="#c40a30" stroke="#98001f" stroke-width="0.35"/>
<circle cx="430.4" cy="502.5" r="1.8" fill="#c40a30" stroke="#98001f" stroke-width="0.35"/>
<circle cx="421.9" cy="522.7" r="1.8" fill="#c40a30" stroke="#98001f" stroke-width="0.35"/>
<circle cx="419.5" cy="520.6" r="1.8" fill="#c40a30" stroke="#98001f" stroke-width="0.35"/>
<circle cx="416.9" cy="520.6" r="1.8" fill="#c40a30" stroke="#98001f" stroke-width="0.35"/>
<circle cx="420.8" cy="568.4" r="1.8" fill="#c40a30" stroke="#98001f" stroke-width="0.35"/>
<circle cx="435.6" cy="519.3" r="1.8" fill="#c40a30" stroke="#98001f" stroke-width="0.35"/>
<circle cx="426.6" cy="515.2" r="1.8" fill="#c40a30" stroke="#98001f" stroke-width="0.35"/>
<circle cx="423.7" cy="516.9" r="1.8" fill="#c40a30" stroke="#98001f" stroke-width="0.35"/>
<circle cx="426.1" cy="558.3" r="1.8" fill="#c40a30" stroke="#98001f" stroke-width="0.35"/>
<circle cx="416.5" cy="527.7" r="1.8" fill="#c40a30" stroke="#98001f" stroke-width="0.35"/>
<circle cx="426.6" cy="566.9" r="1.8" fill="#c40a30" stroke="#98001f" stroke-width="0.35"/>
<circle cx="421.0" cy="518.1" r="1.8" fill="#c40a30" stroke="#98001f" stroke-width="0.35"/>
<circle cx="427.7" cy="557.4" r="1.8" fill="#c40a30" stroke="#98001f" stroke-width="0.35"/>
<circle cx="425.5" cy="510.0" r="1.8" fill="#c40a30" stroke="#98001f" stroke-width="0.35"/>
<circle cx="423.1" cy="549.1" r="1.8" fill="#c40a30" stroke="#98001f" stroke-width="0.35"/>
<circle cx="424.8" cy="510.3" r="1.8" fill="#c40a30" stroke="#98001f" stroke-width="0.35"/>
<circle cx="422.2" cy="527.8" r="1.8" fill="#c40a30" stroke="#98001f" stroke-width="0.35"/>
<circle cx="427.0" cy="508.1" r="1.8" fill="#c40a30" stroke="#98001f" stroke-width="0.35"/>
<circle cx="428.3" cy="529.4" r="1.8" fill="#c40a30" stroke="#98001f" stroke-width="0.35"/>
<circle cx="439.9" cy="551.0" r="1.8" fill="#c40a30" stroke="#98001f" stroke-width="0.35"/>
<circle cx="440.5" cy="554.0" r="1.8" fill="#c40a30" stroke="#98001f" stroke-width="0.35"/>
<circle cx="433.8" cy="514.8" r="1.8" fill="#c40a30" stroke="#98001f" stroke-width="0.35"/>
<circle cx="424.9" cy="517.8" r="1.8" fill="#c40a30" stroke="#98001f" stroke-width="0.35"/>
<circle cx="421.1" cy="552.3" r="1.8" fill="#c40a30" stroke="#98001f" stroke-width="0.35"/>
<circle cx="423.2" cy="493.4" r="1.8" fill="#c40a30" stroke="#98001f" stroke-width="0.35"/>
<circle cx="418.0" cy="529.9" r="1.8" fill="#c40a30" stroke="#98001f" stroke-width="0.35"/>
<circle cx="422.3" cy="522.7" r="1.8" fill="#c40a30" stroke="#98001f" stroke-width="0.35"/>
<circle cx="434.2" cy="545.3" r="1.8" fill="#c40a30" stroke="#98001f" stroke-width="0.35"/>
<circle cx="438.2" cy="560.5" r="1.8" fill="#c40a30" stroke="#98001f" stroke-width="0.35"/>
<circle cx="432.6" cy="518.8" r="1.8" fill="#c40a30" stroke="#98001f" stroke-width="0.35"/>
<circle cx="422.7" cy="507.6" r="1.8" fill="#c40a30" stroke="#98001f" stroke-width="0.35"/>
<circle cx="419.8" cy="563.8" r="1.8" fill="#c40a30" stroke="#98001f" stroke-width="0.35"/>
<circle cx="432.9" cy="514.7" r="1.8" fill="#c40a30" stroke="#98001f" stroke-width="0.35"/>
<circle cx="430.7" cy="506.4" r="1.8" fill="#c40a30" stroke="#98001f" stroke-width="0.35"/>
<circle cx="429.7" cy="558.1" r="1.8" fill="#c40a30" stroke="#98001f" stroke-width="0.35"/>
<circle cx="416.3" cy="511.8" r="1.8" fill="#c40a30" stroke="#98001f" stroke-width="0.35"/>
<circle cx="418.7" cy="502.7" r="1.8" fill="#c40a30" stroke="#98001f" stroke-width="0.35"/>
<circle cx="423.1" cy="554.4" r="1.8" fill="#c40a30" stroke="#98001f" stroke-width="0.35"/>
<circle cx="433.5" cy="540.6" r="1.8" fill="#c40a30" stroke="#98001f" stroke-width="0.35"/>
<circle cx="421.7" cy="518.4" r="1.8" fill="#c40a30" stroke="#98001f" stroke-width="0.35"/>
<circle cx="419.4" cy="503.9" r="1.8" fill="#c40a30" stroke="#98001f" stroke-width="0.35"/>
<circle cx="422.9" cy="538.7" r="1.8" fill="#c40a30" stroke="#98001f" stroke-width="0.35"/>
<circle cx="424.7" cy="503.9" r="1.8" fill="#c40a30" stroke="#98001f" stroke-width="0.35"/>
<circle cx="417.0" cy="494.9" r="1.8" fill="#c40a30" stroke="#98001f" stroke-width="0.35"/>
<circle cx="427.3" cy="534.4" r="1.8" fill="#c40a30" stroke="#98001f" stroke-width="0.35"/>
<circle cx="420.1" cy="547.2" r="1.8" fill="#c40a30" stroke="#98001f" stroke-width="0.35"/>
<circle cx="427.7" cy="510.9" r="1.8" fill="#c40a30" stroke="#98001f" stroke-width="0.35"/>
<circle cx="424.7" cy="535.9" r="1.8" fill="#c40a30" stroke="#98001f" stroke-width="0.35"/>
<circle cx="426.1" cy="522.6" r="1.8" fill="#c40a30" stroke="#98001f" stroke-width="0.35"/>
<circle cx="426.3" cy="503.4" r="1.8" fill="#c40a30" stroke="#98001f" stroke-width="0.35"/>
<circle cx="428.1" cy="558.2" r="1.8" fill="#c40a30" stroke="#98001f" stroke-width="0.35"/>
<circle cx="427.6" cy="563.7" r="1.8" fill="#c40a30" stroke="#98001f" stroke-width="0.35"/>
<circle cx="429.3" cy="500.3" r="1.8" fill="#c40a30" stroke="#98001f" stroke-width="0.35"/>
<circle cx="417.8" cy="540.8" r="1.8" fill="#c40a30" stroke="#98001f" stroke-width="0.35"/>
<circle cx="426.5" cy="530.4" r="1.8" fill="#c40a30" stroke="#98001f" stroke-width="0.35"/>
<circle cx="419.5" cy="510.9" r="1.8" fill="#c40a30" stroke="#98001f" stroke-width="0.35"/>
<circle cx="418.4" cy="529.2" r="1.8" fill="#c40a30" stroke="#98001f" stroke-width="0.35"/>
<circle cx="421.1" cy="497.1" r="1.8" fill="#c40a30" stroke="#98001f" stroke-width="0.35"/>
<circle cx="427.5" cy="560.5" r="1.8" fill="#c40a30" stroke="#98001f" stroke-width="0.35"/>
<circle cx="421.8" cy="521.2" r="1.8" fill="#c40a30" stroke="#98001f" stroke-width="0.35"/>
<circle cx="431.1" cy="519.8" r="1.8" fill="#c40a30" stroke="#98001f" stroke-width="0.35"/>
<circle cx="418.8" cy="507.7" r="1.8" fill="#c40a30" stroke="#98001f" stroke-width="0.35"/>
<circle cx="416.3" cy="535.5" r="1.8" fill="#c40a30" stroke="#98001f" stroke-width="0.35"/>
<circle cx="433.6" cy="534.4" r="1.8" fill="#c40a30" stroke="#98001f" stroke-width="0.35"/>
<circle cx="434.4" cy="512.9" r="1.8" fill="#c40a30" stroke="#98001f" stroke-width="0.35"/>
<circle cx="428.0" cy="537.3" r="1.8" fill="#c40a30" stroke="#98001f" stroke-width="0.35"/>
<circle cx="428.2" cy="544.0" r="1.8" fill="#c40a30" stroke="#98001f" stroke-width="0.35"/>
<circle cx="428.9" cy="524.6" r="1.8" fill="#c40a30" stroke="#98001f" stroke-width="0.35"/>
<circle cx="430.2" cy="506.7" r="1.8" fill="#c40a30" stroke="#98001f" stroke-width="0.35"/>
<circle cx="438.7" cy="554.6" r="1.8" fill="#c40a30" stroke="#98001f" stroke-width="0.35"/>
<circle cx="429.2" cy="501.8" r="1.8" fill="#c40a30" stroke="#98001f" stroke-width="0.35"/>
<circle cx="419.0" cy="523.9" r="1.8" fill="#c40a30" stroke="#98001f" stroke-width="0.35"/>
<circle cx="417.8" cy="524.9" r="1.8" fill="#c40a30" stroke="#98001f" stroke-width="0.35"/>
<circle cx="437.7" cy="554.4" r="1.8" fill="#c40a30" stroke="#98001f" stroke-width="0.35"/>
<circle cx="430.6" cy="519.3" r="1.8" fill="#c40a30" stroke="#98001f" stroke-width="0.35"/>
<circle cx="437.7" cy="557.7" r="1.8" fill="#c40a30" stroke="#98001f" stroke-width="0.35"/>
<circle cx="417.0" cy="516.9" r="1.8" fill="#c40a30" stroke="#98001f" stroke-width="0.35"/>
<circle cx="421.5" cy="509.1" r="1.8" fill="#c40a30" stroke="#98001f" stroke-width="0.35"/>
<circle cx="430.7" cy="514.1" r="1.8" fill="#c40a30" stroke="#98001f" stroke-width="0.35"/>
<circle cx="420.0" cy="568.4" r="1.8" fill="#c40a30" stroke="#98001f" stroke-width="0.35"/>
<circle cx="420.2" cy="555.1" r="1.8" fill="#c40a30" stroke="#98001f" stroke-width="0.35"/>
<circle cx="418.6" cy="532.7" r="1.8" fill="#c40a30" stroke="#98001f" stroke-width="0.35"/>
<circle cx="434.7" cy="517.7" r="1.8" fill="#c40a30" stroke="#98001f" stroke-width="0.35"/>
<circle cx="433.0" cy="563.7" r="1.8" fill="#c40a30" stroke="#98001f" stroke-width="0.35"/>
<circle cx="434.5" cy="520.7" r="1.8" fill="#c40a30" stroke="#98001f" stroke-width="0.35"/>
<circle cx="426.2" cy="553.3" r="1.8" fill="#c40a30" stroke="#98001f" stroke-width="0.35"/>
<circle cx="428.7" cy="501.6" r="1.8" fill="#c40a30" stroke="#98001f" stroke-width="0.35"/>
<circle cx="433.2" cy="543.1" r="1.8" fill="#c40a30" stroke="#98001f" stroke-width="0.35"/>
<circle cx="434.1" cy="528.1" r="1.8" fill="#c40a30" stroke="#98001f" stroke-width="0.35"/>
<circle cx="419.1" cy="514.8" r="1.8" fill="#c40a30" stroke="#98001f" stroke-width="0.35"/>
<circle cx="418.3" cy="523.2" r="1.8" fill="#c40a30" stroke="#98001f" stroke-width="0.35"/>
<circle cx="422.0" cy="537.9" r="1.8" fill="#c40a30" stroke="#98001f" stroke-width="0.35"/>
<circle cx="434.3" cy="530.9" r="1.8" fill="#c40a30" stroke="#98001f" stroke-width="0.35"/>
<circle cx="422.6" cy="509.7" r="1.8" fill="#c40a30" stroke="#98001f" stroke-width="0.35"/>
<circle cx="418.0" cy="541.5" r="1.8" fill="#c40a30" stroke="#98001f" stroke-width="0.35"/>
<circle cx="427.5" cy="517.2" r="1.8" fill="#c40a30" stroke="#98001f" stroke-width="0.35"/>
<circle cx="432.4" cy="522.8" r="1.8" fill="#c40a30" stroke="#98001f" stroke-width="0.35"/>
<circle cx="416.4" cy="534.5" r="1.8" fill="#c40a30" stroke="#98001f" stroke-width="0.35"/>
<circle cx="427.6" cy="515.4" r="1.8" fill="#c40a30" stroke="#98001f" stroke-width="0.35"/>
<circle cx="416.8" cy="550.6" r="1.8" fill="#c40a30" stroke="#98001f" stroke-width="0.35"/>
<circle cx="421.2" cy="539.5" r="1.8" fill="#c40a30" stroke="#98001f" stroke-width="0.35"/>
<circle cx="430.7" cy="541.7" r="1.8" fill="#c40a30" stroke="#98001f" stroke-width="0.35"/>
<circle cx="424.6" cy="519.5" r="1.8" fill="#c40a30" stroke="#98001f" stroke-width="0.35"/>
<circle cx="416.5" cy="557.8" r="1.8" fill="#c40a30" stroke="#98001f" stroke-width="0.35"/>
<circle cx="422.0" cy="506.8" r="1.8" fill="#c40a30" stroke="#98001f" stroke-width="0.35"/>
<circle cx="425.4" cy="548.7" r="1.8" fill="#c40a30" stroke="#98001f" stroke-width="0.35"/>
<circle cx="432.2" cy="528.3" r="1.8" fill="#c40a30" stroke="#98001f" stroke-width="0.35"/>
<circle cx="423.2" cy="541.7" r="1.8" fill="#c40a30" stroke="#98001f" stroke-width="0.35"/>
<circle cx="423.1" cy="515.3" r="1.8" fill="#c40a30" stroke="#98001f" stroke-width="0.35"/>
<circle cx="434.6" cy="545.0" r="1.8" fill="#c40a30" stroke="#98001f" stroke-width="0.35"/>
<circle cx="429.6" cy="554.6" r="1.8" fill="#c40a30" stroke="#98001f" stroke-width="0.35"/>
<circle cx="428.6" cy="547.1" r="1.8" fill="#c40a30" stroke="#98001f" stroke-width="0.35"/>
<circle cx="432.7" cy="520.0" r="1.8" fill="#c40a30" stroke="#98001f" stroke-width="0.35"/>
<circle cx="421.6" cy="540.5" r="1.8" fill="#c40a30" stroke="#98001f" stroke-width="0.35"/>
<circle cx="417.4" cy="559.2" r="1.8" fill="#c40a30" stroke="#98001f" stroke-width="0.35"/>
<circle cx="425.7" cy="509.2" r="1.8" fill="#c40a30" stroke="#98001f" stroke-width="0.35"/>
<circle cx="436.6" cy="547.9" r="1.8" fill="#c40a30" stroke="#98001f" stroke-width="0.35"/>
<circle cx="417.0" cy="538.4" r="1.8" fill="#c40a30" stroke="#98001f" stroke-width="0.35"/>
<circle cx="426.3" cy="553.1" r="1.8" fill="#c40a30" stroke="#98001f" stroke-width="0.35"/>
<circle cx="417.0" cy="556.4" r="1.8" fill="#c40a30" stroke="#98001f" stroke-width="0.35"/>
<circle cx="418.3" cy="513.4" r="1.8" fill="#c40a30" stroke="#98001f" stroke-width="0.35"/>
<circle cx="434.7" cy="553.6" r="1.8" fill="#c40a30" stroke="#98001f" stroke-width="0.35"/>
<circle cx="418.1" cy="506.4" r="1.8" fill="#c40a30" stroke="#98001f" stroke-width="0.35"/>
<circle cx="424.9" cy="527.5" r="1.8" fill="#c40a30" stroke="#98001f" stroke-width="0.35"/>
<circle cx="423.8" cy="546.5" r="1.8" fill="#c40a30" stroke="#98001f" stroke-width="0.35"/>
<circle cx="426.4" cy="520.9" r="1.8" fill="#c40a30" stroke="#98001f" stroke-width="0.35"/>
<circle cx="428.5" cy="550.2" r="1.8" fill="#c40a30" stroke="#98001f" stroke-width="0.35"/>
<circle cx="425.8" cy="545.8" r="1.8" fill="#c40a30" stroke="#98001f" stroke-width="0.35"/>
<circle cx="431.7" cy="514.1" r="1.8" fill="#c40a30" stroke="#98001f" stroke-width="0.35"/>
<circle cx="430.2" cy="551.8" r="1.8" fill="#c40a30" stroke="#98001f" stroke-width="0.35"/>
<circle cx="420.7" cy="532.1" r="1.8" fill="#c40a30" stroke="#98001f" stroke-width="0.35"/>
<circle cx="425.8" cy="554.1" r="1.8" fill="#c40a30" stroke="#98001f" stroke-width="0.35"/>
<circle cx="423.8" cy="514.0" r="1.8" fill="#c40a30" stroke="#98001f" stroke-width="0.35"/>
<circle cx="418.4" cy="541.4" r="1.8" fill="#c40a30" stroke="#98001f" stroke-width="0.35"/>
<circle cx="417.5" cy="551.2" r="1.8" fill="#c40a30" stroke="#98001f" stroke-width="0.35"/>
<circle cx="436.6" cy="551.2" r="1.8" fill="#c40a30" stroke="#98001f" stroke-width="0.35"/>
<circle cx="427.4" cy="525.6" r="1.8" fill="#c40a30" stroke="#98001f" stroke-width="0.35"/>
<circle cx="421.4" cy="517.1" r="1.8" fill="#c40a30" stroke="#98001f" stroke-width="0.35"/>
<circle cx="422.2" cy="530.0" r="1.8" fill="#c40a30" stroke="#98001f" stroke-width="0.35"/>
<circle cx="431.5" cy="549.0" r="1.8" fill="#c40a30" stroke="#98001f" stroke-width="0.35"/>
<circle cx="425.8" cy="521.2" r="1.8" fill="#c40a30" stroke="#98001f" stroke-width="0.35"/>
<circle cx="419.8" cy="554.8" r="1.8" fill="#c40a30" stroke="#98001f" stroke-width="0.35"/>
<circle cx="435.5" cy="548.2" r="1.8" fill="#c40a30" stroke="#98001f" stroke-width="0.35"/>
<circle cx="420.3" cy="528.5" r="1.8" fill="#c40a30" stroke="#98001f" stroke-width="0.35"/>
<circle cx="418.9" cy="530.0" r="1.8" fill="#c40a30" stroke="#98001f" stroke-width="0.35"/>
<circle cx="420.9" cy="519.6" r="1.8" fill="#c40a30" stroke="#98001f" stroke-width="0.35"/>
<circle cx="419.8" cy="510.1" r="1.8" fill="#c40a30" stroke="#98001f" stroke-width="0.35"/>
<circle cx="339.8" cy="361.5" r="1.8" fill="#c40a30" stroke="#98001f" stroke-width="0.35"/>
<circle cx="341.9" cy="391.3" r="1.8" fill="#c40a30" stroke="#98001f" stroke-width="0.35"/>
<circle cx="343.7" cy="395.9" r="1.8" fill="#c40a30" stroke="#98001f" stroke-width="0.35"/>
<circle cx="341.5" cy="408.9" r="1.8" fill="#c40a30" stroke="#98001f" stroke-width="0.35"/>
<circle cx="345.5" cy="416.5" r="1.8" fill="#c40a30" stroke="#98001f" stroke-width="0.35"/>
<circle cx="349.2" cy="414.3" r="1.8" fill="#c40a30" stroke="#98001f" stroke-width="0.35"/>
<circle cx="344.5" cy="425.2" r="1.8" fill="#c40a30" stroke="#98001f" stroke-width="0.35"/>
<circle cx="350.9" cy="430.1" r="1.8" fill="#c40a30" stroke="#98001f" stroke-width="0.35"/>
<circle cx="346.0" cy="433.8" r="1.8" fill="#c40a30" stroke="#98001f" stroke-width="0.35"/>
<circle cx="348.6" cy="433.8" r="1.8" fill="#c40a30" stroke="#98001f" stroke-width="0.35"/>
<circle cx="348.6" cy="437.5" r="1.8" fill="#c40a30" stroke="#98001f" stroke-width="0.35"/>
<circle cx="341.7" cy="440.5" r="1.8" fill="#c40a30" stroke="#98001f" stroke-width="0.35"/>
<circle cx="351.1" cy="441.7" r="1.8" fill="#c40a30" stroke="#98001f" stroke-width="0.35"/>
<circle cx="350.2" cy="444.8" r="1.8" fill="#c40a30" stroke="#98001f" stroke-width="0.35"/>
<circle cx="336.7" cy="444.6" r="1.8" fill="#c40a30" stroke="#98001f" stroke-width="0.35"/>
<circle cx="347.1" cy="453.4" r="1.8" fill="#c40a30" stroke="#98001f" stroke-width="0.35"/>
<circle cx="347.9" cy="454.6" r="1.8" fill="#c40a30" stroke="#98001f" stroke-width="0.35"/>
<circle cx="352.9" cy="459.8" r="1.8" fill="#c40a30" stroke="#98001f" stroke-width="0.35"/>
<circle cx="354.6" cy="461.0" r="1.8" fill="#c40a30" stroke="#98001f" stroke-width="0.35"/>
<circle cx="347.5" cy="463.6" r="1.8" fill="#c40a30" stroke="#98001f" stroke-width="0.35"/>
<circle cx="349.8" cy="465.0" r="1.8" fill="#c40a30" stroke="#98001f" stroke-width="0.35"/>
<circle cx="353.4" cy="470.7" r="1.8" fill="#c40a30" stroke="#98001f" stroke-width="0.35"/>
<circle cx="356.9" cy="472.5" r="1.8" fill="#c40a30" stroke="#98001f" stroke-width="0.35"/>
<circle cx="354.0" cy="475.1" r="1.8" fill="#c40a30" stroke="#98001f" stroke-width="0.35"/>
<circle cx="344.2" cy="479.4" r="1.8" fill="#c40a30" stroke="#98001f" stroke-width="0.35"/>
<circle cx="358.1" cy="479.4" r="1.8" fill="#c40a30" stroke="#98001f" stroke-width="0.35"/>
<circle cx="318.7" cy="461.5" r="1.8" fill="#c40a30" stroke="#98001f" stroke-width="0.35"/>
<circle cx="314.2" cy="476.0" r="1.8" fill="#c40a30" stroke="#98001f" stroke-width="0.35"/>
<circle cx="323.5" cy="508.3" r="1.8" fill="#c40a30" stroke="#98001f" stroke-width="0.35"/>
<circle cx="326.2" cy="515.4" r="1.8" fill="#c40a30" stroke="#98001f" stroke-width="0.35"/>
<circle cx="294.8" cy="533.5" r="1.8" fill="#c40a30" stroke="#98001f" stroke-width="0.35"/>
<circle cx="292.9" cy="540.2" r="1.8" fill="#c40a30" stroke="#98001f" stroke-width="0.35"/>
<circle cx="347.7" cy="493.3" r="1.8" fill="#c40a30" stroke="#98001f" stroke-width="0.35"/>
<circle cx="349.8" cy="496.7" r="1.8" fill="#c40a30" stroke="#98001f" stroke-width="0.35"/>
<circle cx="353.4" cy="490.4" r="1.8" fill="#c40a30" stroke="#98001f" stroke-width="0.35"/>
<circle cx="346.5" cy="516.7" r="1.8" fill="#c40a30" stroke="#98001f" stroke-width="0.35"/>
<circle cx="352.9" cy="516.7" r="1.8" fill="#c40a30" stroke="#98001f" stroke-width="0.35"/>
<circle cx="343.1" cy="521.5" r="1.8" fill="#c40a30" stroke="#98001f" stroke-width="0.35"/>
<circle cx="347.1" cy="521.5" r="1.8" fill="#c40a30" stroke="#98001f" stroke-width="0.35"/>
<circle cx="343.1" cy="527.3" r="1.8" fill="#c40a30" stroke="#98001f" stroke-width="0.35"/>
<circle cx="351.1" cy="526.7" r="1.8" fill="#c40a30" stroke="#98001f" stroke-width="0.35"/>
<circle cx="338.5" cy="531.3" r="1.8" fill="#c40a30" stroke="#98001f" stroke-width="0.35"/>
<circle cx="328.3" cy="537.1" r="1.8" fill="#c40a30" stroke="#98001f" stroke-width="0.35"/>
<circle cx="328.4" cy="537.0" r="1.8" fill="#c40a30" stroke="#98001f" stroke-width="0.35"/>
<circle cx="328.7" cy="542.8" r="1.8" fill="#c40a30" stroke="#98001f" stroke-width="0.35"/>
<circle cx="320.2" cy="548.1" r="1.8" fill="#c40a30" stroke="#98001f" stroke-width="0.35"/>
<circle cx="327.9" cy="548.6" r="1.8" fill="#c40a30" stroke="#98001f" stroke-width="0.35"/>
<circle cx="334.6" cy="549.5" r="1.8" fill="#c40a30" stroke="#98001f" stroke-width="0.35"/>
<circle cx="320.7" cy="558.2" r="1.8" fill="#c40a30" stroke="#98001f" stroke-width="0.35"/>
<circle cx="332.5" cy="558.2" r="1.8" fill="#c40a30" stroke="#98001f" stroke-width="0.35"/>
<circle cx="338.5" cy="547.1" r="1.8" fill="#c40a30" stroke="#98001f" stroke-width="0.35"/>
<circle cx="339.4" cy="552.4" r="1.8" fill="#c40a30" stroke="#98001f" stroke-width="0.35"/>
<circle cx="342.3" cy="527.4" r="1.8" fill="#c40a30" stroke="#98001f" stroke-width="0.35"/>
<circle cx="360.0" cy="482.0" r="1.8" fill="#c40a30" stroke="#98001f" stroke-width="0.35"/>
<circle cx="357.0" cy="486.0" r="1.8" fill="#c40a30" stroke="#98001f" stroke-width="0.35"/>
<circle cx="362.0" cy="476.0" r="1.8" fill="#c40a30" stroke="#98001f" stroke-width="0.35"/>
<circle cx="359.0" cy="468.0" r="1.8" fill="#c40a30" stroke="#98001f" stroke-width="0.35"/>
<circle cx="361.0" cy="462.0" r="1.8" fill="#c40a30" stroke="#98001f" stroke-width="0.35"/>
<circle cx="456.1" cy="347.2" r="1.8" fill="#c40a30" stroke="#98001f" stroke-width="0.35"/>
<circle cx="452.1" cy="357.9" r="1.8" fill="#c40a30" stroke="#98001f" stroke-width="0.35"/>
<circle cx="444.6" cy="384.1" r="1.8" fill="#c40a30" stroke="#98001f" stroke-width="0.35"/>
<circle cx="465.6" cy="384.1" r="1.8" fill="#c40a30" stroke="#98001f" stroke-width="0.35"/>
<circle cx="445.2" cy="392.5" r="1.8" fill="#c40a30" stroke="#98001f" stroke-width="0.35"/>
<circle cx="443.2" cy="395.1" r="1.8" fill="#c40a30" stroke="#98001f" stroke-width="0.35"/>
<circle cx="463.6" cy="394.0" r="1.8" fill="#c40a30" stroke="#98001f" stroke-width="0.35"/>
<circle cx="470.6" cy="409.0" r="1.8" fill="#c40a30" stroke="#98001f" stroke-width="0.35"/>
<circle cx="458.1" cy="411.3" r="1.8" fill="#c40a30" stroke="#98001f" stroke-width="0.35"/>
<circle cx="444.6" cy="413.8" r="1.8" fill="#c40a30" stroke="#98001f" stroke-width="0.35"/>
<circle cx="466.7" cy="414.6" r="1.8" fill="#c40a30" stroke="#98001f" stroke-width="0.35"/>
<circle cx="432.7" cy="427.1" r="1.8" fill="#c40a30" stroke="#98001f" stroke-width="0.35"/>
<circle cx="441.7" cy="426.7" r="1.8" fill="#c40a30" stroke="#98001f" stroke-width="0.35"/>
<circle cx="444.2" cy="427.1" r="1.8" fill="#c40a30" stroke="#98001f" stroke-width="0.35"/>
<circle cx="471.2" cy="427.1" r="1.8" fill="#c40a30" stroke="#98001f" stroke-width="0.35"/>
<circle cx="468.7" cy="433.1" r="1.8" fill="#c40a30" stroke="#98001f" stroke-width="0.35"/>
<circle cx="453.8" cy="435.8" r="1.8" fill="#c40a30" stroke="#98001f" stroke-width="0.35"/>
<circle cx="441.7" cy="442.1" r="1.8" fill="#c40a30" stroke="#98001f" stroke-width="0.35"/>
<circle cx="440.8" cy="444.0" r="1.8" fill="#c40a30" stroke="#98001f" stroke-width="0.35"/>
<circle cx="434.6" cy="450.4" r="1.8" fill="#c40a30" stroke="#98001f" stroke-width="0.35"/>
<circle cx="430.8" cy="454.6" r="1.8" fill="#c40a30" stroke="#98001f" stroke-width="0.35"/>
<circle cx="436.0" cy="454.6" r="1.8" fill="#c40a30" stroke="#98001f" stroke-width="0.35"/>
<circle cx="442.7" cy="453.1" r="1.8" fill="#c40a30" stroke="#98001f" stroke-width="0.35"/>
<circle cx="444.2" cy="454.6" r="1.8" fill="#c40a30" stroke="#98001f" stroke-width="0.35"/>
<circle cx="428.1" cy="456.7" r="1.8" fill="#c40a30" stroke="#98001f" stroke-width="0.35"/>
<circle cx="433.3" cy="458.5" r="1.8" fill="#c40a30" stroke="#98001f" stroke-width="0.35"/>
<circle cx="441.8" cy="462.8" r="1.8" fill="#c40a30" stroke="#98001f" stroke-width="0.35"/>
<circle cx="451.2" cy="460.8" r="1.8" fill="#c40a30" stroke="#98001f" stroke-width="0.35"/>
<circle cx="425.6" cy="464.5" r="1.8" fill="#c40a30" stroke="#98001f" stroke-width="0.35"/>
<circle cx="424.1" cy="470.6" r="1.8" fill="#c40a30" stroke="#98001f" stroke-width="0.35"/>
<circle cx="429.9" cy="472.1" r="1.8" fill="#c40a30" stroke="#98001f" stroke-width="0.35"/>
<circle cx="433.3" cy="471.7" r="1.8" fill="#c40a30" stroke="#98001f" stroke-width="0.35"/>
<circle cx="436.5" cy="472.9" r="1.8" fill="#c40a30" stroke="#98001f" stroke-width="0.35"/>
<circle cx="430.5" cy="476.3" r="1.8" fill="#c40a30" stroke="#98001f" stroke-width="0.35"/>
<circle cx="428.1" cy="479.5" r="1.8" fill="#c40a30" stroke="#98001f" stroke-width="0.35"/>
<circle cx="432.2" cy="481.5" r="1.8" fill="#c40a30" stroke="#98001f" stroke-width="0.35"/>
<circle cx="441.4" cy="481.0" r="1.8" fill="#c40a30" stroke="#98001f" stroke-width="0.35"/>
<circle cx="443.4" cy="480.1" r="1.8" fill="#c40a30" stroke="#98001f" stroke-width="0.35"/>
<circle cx="452.9" cy="477.1" r="1.8" fill="#c40a30" stroke="#98001f" stroke-width="0.35"/>
<circle cx="426.4" cy="489.0" r="1.8" fill="#c40a30" stroke="#98001f" stroke-width="0.35"/>
<circle cx="433.0" cy="489.6" r="1.8" fill="#c40a30" stroke="#98001f" stroke-width="0.35"/>
<circle cx="443.4" cy="489.0" r="1.8" fill="#c40a30" stroke="#98001f" stroke-width="0.35"/>
<circle cx="420.1" cy="491.9" r="1.8" fill="#c40a30" stroke="#98001f" stroke-width="0.35"/>
<circle cx="421.8" cy="494.8" r="1.8" fill="#c40a30" stroke="#98001f" stroke-width="0.35"/>
<circle cx="424.7" cy="496.5" r="1.8" fill="#c40a30" stroke="#98001f" stroke-width="0.35"/>
<circle cx="431.0" cy="495.9" r="1.8" fill="#c40a30" stroke="#98001f" stroke-width="0.35"/>
<circle cx="433.3" cy="495.4" r="1.8" fill="#c40a30" stroke="#98001f" stroke-width="0.35"/>
<circle cx="438.8" cy="491.9" r="1.8" fill="#c40a30" stroke="#98001f" stroke-width="0.35"/>
<circle cx="437.6" cy="495.4" r="1.8" fill="#c40a30" stroke="#98001f" stroke-width="0.35"/>
<circle cx="417.2" cy="499.4" r="1.8" fill="#c40a30" stroke="#98001f" stroke-width="0.35"/>
<circle cx="426.4" cy="499.4" r="1.8" fill="#c40a30" stroke="#98001f" stroke-width="0.35"/>
<circle cx="467.4" cy="510.4" r="1.8" fill="#c40a30" stroke="#98001f" stroke-width="0.35"/>
<circle cx="436.5" cy="507.0" r="1.8" fill="#c40a30" stroke="#98001f" stroke-width="0.35"/>
<circle cx="441.8" cy="509.0" r="1.8" fill="#c40a30" stroke="#98001f" stroke-width="0.35"/>
<circle cx="446.0" cy="517.0" r="1.8" fill="#c40a30" stroke="#98001f" stroke-width="0.35"/>
<circle cx="449.0" cy="522.0" r="1.8" fill="#c40a30" stroke="#98001f" stroke-width="0.35"/>
<circle cx="445.0" cy="535.0" r="1.8" fill="#c40a30" stroke="#98001f" stroke-width="0.35"/>
<circle cx="452.0" cy="536.0" r="1.8" fill="#c40a30" stroke="#98001f" stroke-width="0.35"/>
<circle cx="455.0" cy="541.0" r="1.8" fill="#c40a30" stroke="#98001f" stroke-width="0.35"/>
<circle cx="460.0" cy="545.0" r="1.8" fill="#c40a30" stroke="#98001f" stroke-width="0.35"/>
<circle cx="462.0" cy="557.0" r="1.8" fill="#c40a30" stroke="#98001f" stroke-width="0.35"/>
<circle cx="457.0" cy="557.0" r="1.8" fill="#c40a30" stroke="#98001f" stroke-width="0.35"/>
<circle cx="451.0" cy="556.0" r="1.8" fill="#c40a30" stroke="#98001f" stroke-width="0.35"/>
<circle cx="447.0" cy="560.0" r="1.8" fill="#c40a30" stroke="#98001f" stroke-width="0.35"/>
<circle cx="476.2" cy="545.2" r="1.8" fill="#c40a30" stroke="#98001f" stroke-width="0.35"/>
<circle cx="463.5" cy="557.1" r="1.8" fill="#c40a30" stroke="#98001f" stroke-width="0.35"/>
<circle cx="456.7" cy="557.0" r="1.8" fill="#c40a30" stroke="#98001f" stroke-width="0.35"/>
<circle cx="448.0" cy="545.0" r="1.8" fill="#c40a30" stroke="#98001f" stroke-width="0.35"/>
<circle cx="454.0" cy="528.0" r="1.8" fill="#c40a30" stroke="#98001f" stroke-width="0.35"/>
<circle cx="463.0" cy="530.0" r="1.8" fill="#c40a30" stroke="#98001f" stroke-width="0.35"/>
<circle cx="470.3" cy="540.5" r="1.8" fill="#c40a30" stroke="#98001f" stroke-width="0.35"/>
<circle cx="421.0" cy="516.0" r="1.8" fill="#c40a30" stroke="#98001f" stroke-width="0.35"/>
<circle cx="418.0" cy="471.0" r="1.8" fill="#c40a30" stroke="#98001f" stroke-width="0.35"/>
<circle cx="419.0" cy="482.0" r="1.8" fill="#c40a30" stroke="#98001f" stroke-width="0.35"/>
<circle cx="438.0" cy="500.0" r="1.8" fill="#c40a30" stroke="#98001f" stroke-width="0.35"/>
<circle cx="440.0" cy="505.0" r="1.8" fill="#c40a30" stroke="#98001f" stroke-width="0.35"/>
<circle cx="446.0" cy="503.0" r="1.8" fill="#c40a30" stroke="#98001f" stroke-width="0.35"/>
<path d="M329.4 322.7 L334.4 322.7 L331.9 318.3Z" fill="#c40a30"/>
<path d="M464.8 322.8 L469.8 322.8 L467.3 318.4Z" fill="#c40a30"/>
<path d="M467.5 322.8 L472.5 322.8 L470.0 318.4Z" fill="#c40a30"/>
<path d="M492.1 322.8 L497.1 322.8 L494.6 318.4Z" fill="#c40a30"/>
<path d="M492.1 401.0 L497.1 401.0 L494.6 396.6Z" fill="#c40a30"/>
<path d="M492.1 470.2 L497.1 470.2 L494.6 465.8Z" fill="#c40a30"/>
<line x1="274.6" y1="308" x2="274.6" y2="596.3" stroke="#1a1a1a" stroke-width="1.1"/>
<line x1="274.1" y1="595.8" x2="505.2" y2="595.8" stroke="#1a1a1a" stroke-width="1.1"/>
<line x1="271.6" y1="582.9" x2="274.6" y2="582.9" stroke="#1a1a1a" stroke-width="1"/>
<text x="267.6" y="585.8" font-size="8.8" text-anchor="end" fill="#2a2a2a" stroke="#2a2a2a" stroke-width="0.2">0</text>
<line x1="271.6" y1="517.5" x2="274.6" y2="517.5" stroke="#1a1a1a" stroke-width="1"/>
<text x="267.6" y="520.4" font-size="8.8" text-anchor="end" fill="#2a2a2a" stroke="#2a2a2a" stroke-width="0.2">10</text>
<line x1="271.6" y1="452.09999999999997" x2="274.6" y2="452.09999999999997" stroke="#1a1a1a" stroke-width="1"/>
<text x="267.6" y="454.99999999999994" font-size="8.8" text-anchor="end" fill="#2a2a2a" stroke="#2a2a2a" stroke-width="0.2">20</text>
<line x1="271.6" y1="386.7" x2="274.6" y2="386.7" stroke="#1a1a1a" stroke-width="1"/>
<text x="267.6" y="389.59999999999997" font-size="8.8" text-anchor="end" fill="#2a2a2a" stroke="#2a2a2a" stroke-width="0.2">30</text>
<line x1="271.6" y1="321.29999999999995" x2="274.6" y2="321.29999999999995" stroke="#1a1a1a" stroke-width="1"/>
<text x="267.6" y="324.19999999999993" font-size="8.8" text-anchor="end" fill="#2a2a2a" stroke="#2a2a2a" stroke-width="0.2">40</text>
<line x1="285.59999999999997" y1="595.8" x2="285.59999999999997" y2="598.8" stroke="#1a1a1a" stroke-width="1"/>
<text x="285.29999999999995" y="611.9" font-size="8.4" text-anchor="middle" fill="#2a2a2a" stroke="#2a2a2a" stroke-width="0.2">−4</text>
<line x1="311.79999999999995" y1="595.8" x2="311.79999999999995" y2="598.8" stroke="#1a1a1a" stroke-width="1"/>
<text x="311.49999999999994" y="611.9" font-size="8.4" text-anchor="middle" fill="#2a2a2a" stroke="#2a2a2a" stroke-width="0.2">−3</text>
<line x1="338.0" y1="595.8" x2="338.0" y2="598.8" stroke="#1a1a1a" stroke-width="1"/>
<text x="337.7" y="611.9" font-size="8.4" text-anchor="middle" fill="#2a2a2a" stroke="#2a2a2a" stroke-width="0.2">−2</text>
<line x1="364.2" y1="595.8" x2="364.2" y2="598.8" stroke="#1a1a1a" stroke-width="1"/>
<text x="363.9" y="611.9" font-size="8.4" text-anchor="middle" fill="#2a2a2a" stroke="#2a2a2a" stroke-width="0.2">−1</text>
<line x1="390.4" y1="595.8" x2="390.4" y2="598.8" stroke="#1a1a1a" stroke-width="1"/>
<text x="390.4" y="611.9" font-size="8.4" text-anchor="middle" fill="#2a2a2a" stroke="#2a2a2a" stroke-width="0.2">0</text>
<line x1="416.59999999999997" y1="595.8" x2="416.59999999999997" y2="598.8" stroke="#1a1a1a" stroke-width="1"/>
<text x="416.59999999999997" y="611.9" font-size="8.4" text-anchor="middle" fill="#2a2a2a" stroke="#2a2a2a" stroke-width="0.2">1</text>
<line x1="442.79999999999995" y1="595.8" x2="442.79999999999995" y2="598.8" stroke="#1a1a1a" stroke-width="1"/>
<text x="442.79999999999995" y="611.9" font-size="8.4" text-anchor="middle" fill="#2a2a2a" stroke="#2a2a2a" stroke-width="0.2">2</text>
<line x1="469.0" y1="595.8" x2="469.0" y2="598.8" stroke="#1a1a1a" stroke-width="1"/>
<text x="469.0" y="611.9" font-size="8.4" text-anchor="middle" fill="#2a2a2a" stroke="#2a2a2a" stroke-width="0.2">3</text>
<line x1="495.2" y1="595.8" x2="495.2" y2="598.8" stroke="#1a1a1a" stroke-width="1"/>
<text x="495.2" y="611.9" font-size="8.4" text-anchor="middle" fill="#2a2a2a" stroke="#2a2a2a" stroke-width="0.2">4</text>
<text x="390.3" y="628.5" font-size="9.2" text-anchor="middle" textLength="61.3" lengthAdjust="spacingAndGlyphs" style="stroke:#2a2a2a;stroke-width:0.5px" fill="#2a2a2a">Log2 (fold change)</text>
<text x="249.0" y="451.8" font-size="9.2" text-anchor="middle" transform="rotate(-90 249.0 451.8)" fill="#2a2a2a" stroke="#2a2a2a" stroke-width="0.45" textLength="87" lengthAdjust="spacingAndGlyphs">−Log10 (adjusted <tspan font-style="italic">P</tspan>-value)</text>
<text x="321.6" y="300.6" font-size="10.3" text-anchor="middle" fill="#2a2a2a" stroke="#2a2a2a" stroke-width="0.2">191</text>
<text x="452.3" y="300.5" font-size="10.3" text-anchor="middle" fill="#2a2a2a" stroke="#2a2a2a" stroke-width="0.2">302</text>
<text x="304.4" y="323.8" font-size="8.7" textLength="21.2" lengthAdjust="spacingAndGlyphs" fill="#1e1e1e" stroke="#1e1e1e" stroke-width="0.18">VM21</text>
<text x="331.7" y="333.40000000000003" font-size="8.7" textLength="40.5" lengthAdjust="spacingAndGlyphs" fill="#1e1e1e" stroke="#1e1e1e" stroke-width="0.18">ANAPC13</text>
<line x1="327" y1="320.6" x2="329.6" y2="320.6" stroke="#444" stroke-width="0.6"/>
<line x1="333" y1="322.5" x2="334" y2="325.5" stroke="#444" stroke-width="0.6"/>
<text x="322.9" y="473.8" font-size="8.7" textLength="27.6" lengthAdjust="spacingAndGlyphs" fill="#1e1e1e" stroke="#1e1e1e" stroke-width="0.18">MACC1</text>
<line x1="319.8" y1="464" x2="322" y2="467" stroke="#444" stroke-width="0.6"/>
<text x="279.2" y="488.20000000000005" font-size="8.7" textLength="80.5" lengthAdjust="spacingAndGlyphs" fill="#1e1e1e" stroke="#1e1e1e" stroke-width="0.18">ENSG00000215246</text>
<text x="299.2" y="501.8" font-size="8.7" textLength="25.2" lengthAdjust="spacingAndGlyphs" fill="#1e1e1e" stroke="#1e1e1e" stroke-width="0.18">GNG4</text>
<line x1="321" y1="502.5" x2="323" y2="506" stroke="#444" stroke-width="0.6"/>
<text x="331.2" y="510.3" font-size="8.7" textLength="26.2" lengthAdjust="spacingAndGlyphs" fill="#1e1e1e" stroke="#1e1e1e" stroke-width="0.18">STRA8</text>
<line x1="328.5" y1="511" x2="330.5" y2="509" stroke="#444" stroke-width="0.6"/>
<text x="296" y="517.2" font-size="8.7" textLength="27.6" lengthAdjust="spacingAndGlyphs" fill="#1e1e1e" stroke="#1e1e1e" stroke-width="0.18">CD180</text>
<path d="M296 512 L294 512 L294 524 L293 529" fill="none" stroke="#555" stroke-width="0.6"/>
<text x="275.4" y="527.8" font-size="7" textLength="19" lengthAdjust="spacingAndGlyphs" fill="#555" stroke="#555" stroke-width="0.2">CD3E</text>
<line x1="288" y1="528.5" x2="292" y2="537" stroke="#555" stroke-width="0.6"/>
<text x="306.3" y="541.0" font-size="8.7" textLength="14.4" lengthAdjust="spacingAndGlyphs" fill="#1e1e1e" stroke="#1e1e1e" stroke-width="0.18">LCT</text>
<line x1="320.5" y1="541.8" x2="326.5" y2="547.5" stroke="#444" stroke-width="0.6"/>
<text x="334.2" y="538.2" font-size="8.7" textLength="26" lengthAdjust="spacingAndGlyphs" fill="#1e1e1e" stroke="#1e1e1e" stroke-width="0.18">SOX1</text>
<line x1="330" y1="537" x2="333" y2="537" stroke="#444" stroke-width="0.6"/>
<text x="283.8" y="551.6" font-size="8.7" textLength="24.5" lengthAdjust="spacingAndGlyphs" fill="#1e1e1e" stroke="#1e1e1e" stroke-width="0.18">CCN3</text>
<line x1="309" y1="548.8" x2="318" y2="548.3" stroke="#444" stroke-width="0.6"/>
<text x="313.8" y="557.4" font-size="8.7" textLength="28.5" lengthAdjust="spacingAndGlyphs" fill="#1e1e1e" stroke="#1e1e1e" stroke-width="0.18">H2BC9</text>
<text x="342.3" y="548.6" font-size="8.7" textLength="78" lengthAdjust="spacingAndGlyphs" fill="#1e1e1e" stroke="#1e1e1e" stroke-width="0.18">ENSG00000225553</text>
<line x1="331" y1="541.5" x2="341" y2="545" stroke="#444" stroke-width="0.6"/>
<text x="318.5" y="569.9" font-size="8.7" textLength="21" lengthAdjust="spacingAndGlyphs" fill="#1e1e1e" stroke="#1e1e1e" stroke-width="0.18">HAP1</text>
<line x1="322" y1="561" x2="323.5" y2="563" stroke="#444" stroke-width="0.6"/>
<text x="341.2" y="564.0" font-size="8.7" textLength="27.6" lengthAdjust="spacingAndGlyphs" fill="#1e1e1e" stroke="#1e1e1e" stroke-width="0.18">GPR20</text>
<line x1="334" y1="558.5" x2="339" y2="561.5" stroke="#444" stroke-width="0.6"/>
<text x="473.5" y="314.3" font-size="8.7" textLength="22.7" lengthAdjust="spacingAndGlyphs" fill="#1e1e1e" stroke="#1e1e1e" stroke-width="0.18">HES1</text>
<line x1="472.5" y1="314.2" x2="469.5" y2="318.5" stroke="#444" stroke-width="0.6"/>
<text x="442.7" y="334.6" font-size="8.7" textLength="31" lengthAdjust="spacingAndGlyphs" fill="#1e1e1e" stroke="#1e1e1e" stroke-width="0.18">IGSF9B</text>
<text x="478.3" y="334.6" font-size="8.7" textLength="25.9" lengthAdjust="spacingAndGlyphs" fill="#1e1e1e" stroke="#1e1e1e" stroke-width="0.18">STAB1</text>
<line x1="467.5" y1="323" x2="467.5" y2="326.5" stroke="#444" stroke-width="0.6"/>
<line x1="493" y1="323" x2="492" y2="326.5" stroke="#444" stroke-width="0.6"/>
<text x="470.6" y="381.3" font-size="8.7" textLength="37.4" lengthAdjust="spacingAndGlyphs" fill="#1e1e1e" stroke="#1e1e1e" stroke-width="0.18">SIGLEC6</text>
<line x1="466.8" y1="382.5" x2="469.5" y2="380.5" stroke="#444" stroke-width="0.6"/>
<text x="477.3" y="392.20000000000005" font-size="8.7" textLength="28.5" lengthAdjust="spacingAndGlyphs" fill="#1e1e1e" stroke="#1e1e1e" stroke-width="0.18">H2AC6</text>
<line x1="491" y1="393" x2="493" y2="396" stroke="#444" stroke-width="0.6"/>
<text x="443.7" y="413.0" font-size="8.7" textLength="17.3" lengthAdjust="spacingAndGlyphs" fill="#1e1e1e" stroke="#1e1e1e" stroke-width="0.18">IL6R</text>
<line x1="461.5" y1="411" x2="463.5" y2="411.5" stroke="#444" stroke-width="0.6"/>
<text x="474.4" y="418.8" font-size="8.7" textLength="31.8" lengthAdjust="spacingAndGlyphs" fill="#1e1e1e" stroke="#1e1e1e" stroke-width="0.18">ZNF117</text>
<line x1="471" y1="413.5" x2="472.5" y2="416.5" stroke="#444" stroke-width="0.6"/>
<text x="435.0" y="427.0" font-size="8.7" textLength="28.8" lengthAdjust="spacingAndGlyphs" fill="#1e1e1e" stroke="#1e1e1e" stroke-width="0.18">ERV3-1</text>
<line x1="465" y1="426.5" x2="468.5" y2="427" stroke="#444" stroke-width="0.6"/>
<text x="474.4" y="441.40000000000003" font-size="8.7" textLength="34" lengthAdjust="spacingAndGlyphs" fill="#1e1e1e" stroke="#1e1e1e" stroke-width="0.18">SLC43A2</text>
<line x1="471" y1="435.5" x2="473" y2="438" stroke="#444" stroke-width="0.6"/>
<text x="471.5" y="463.0" font-size="8.7" textLength="20.2" lengthAdjust="spacingAndGlyphs" fill="#1e1e1e" stroke="#1e1e1e" stroke-width="0.18">KLF2</text>
<line x1="492" y1="464" x2="493.5" y2="466" stroke="#444" stroke-width="0.6"/>
<text x="430.2" y="510.70000000000005" font-size="8.7" textLength="31.3" lengthAdjust="spacingAndGlyphs" fill="#1e1e1e" stroke="#1e1e1e" stroke-width="0.18">TPSAB1</text>
<line x1="462" y1="508.5" x2="466" y2="509.5" stroke="#444" stroke-width="0.6"/>
<text x="473.8" y="509.70000000000005" font-size="8.7" textLength="34.2" lengthAdjust="spacingAndGlyphs" fill="#1e1e1e" stroke="#1e1e1e" stroke-width="0.18">MS4A14</text>
<line x1="481" y1="511.5" x2="479.5" y2="514.5" stroke="#444" stroke-width="0.6"/>
<text x="439.8" y="520.3000000000001" font-size="8.7" textLength="26" lengthAdjust="spacingAndGlyphs" fill="#1e1e1e" stroke="#1e1e1e" stroke-width="0.18">RHOB</text>
<line x1="467" y1="517.6" x2="474.5" y2="517.5" stroke="#444" stroke-width="0.6"/>
<circle cx="477.3" cy="517.3" r="1.8" fill="#c40a30"/>
<circle cx="474.5" cy="517.8" r="1.8" fill="#c40a30"/>
<text x="476.3" y="534.3000000000001" font-size="8.7" textLength="33.7" lengthAdjust="spacingAndGlyphs" fill="#1e1e1e" stroke="#1e1e1e" stroke-width="0.18">SEMA6B</text>
<line x1="472" y1="526.5" x2="474" y2="529" stroke="#444" stroke-width="0.6"/>
<text x="417.7" y="541.1" font-size="8.7" textLength="55.8" lengthAdjust="spacingAndGlyphs" fill="#1e1e1e" stroke="#1e1e1e" stroke-width="0.18">HOMER3-AS1</text>
<text x="7.9" y="461.8" font-size="12.6" font-weight="bold" style="stroke:#111;stroke-width:0.45px" fill="#111">E</text>
<text x="18.7" y="484.9" font-size="10.2" textLength="132" lengthAdjust="spacingAndGlyphs" style="stroke:#1a1a1a;stroke-width:0.06px" fill="#1a1a1a">HALLMARK_E2F_TARGETS</text>
<text x="18.6" y="605.3" font-size="10.2" textLength="143.5" lengthAdjust="spacingAndGlyphs" style="stroke:#1a1a1a;stroke-width:0.06px" fill="#1a1a1a">WONG_EMBRYONIC_STEM_</text>
<text x="18.6" y="620.7" font-size="10.2" textLength="61.3" lengthAdjust="spacingAndGlyphs" style="stroke:#1a1a1a;stroke-width:0.06px" fill="#1a1a1a">CELL_CORE</text>
<defs>
<linearGradient id="cb1" x1="0" x2="1" y1="0" y2="0">
<stop offset="0.0000" stop-color="#e22a40"/><stop offset="0.2337" stop-color="#e53a4e"/><stop offset="0.2581" stop-color="#e8708a"/><stop offset="0.3151" stop-color="#ee90a8"/><stop offset="0.3396" stop-color="#f4bcd0"/><stop offset="0.6246" stop-color="#f4c2d6"/><stop offset="0.6409" stop-color="#d8d4f0"/><stop offset="0.8200" stop-color="#c8c4ec"/><stop offset="0.8445" stop-color="#6a5cc0"/><stop offset="1.0000" stop-color="#4a40a8"/></linearGradient>
<linearGradient id="cb2" x1="0" x2="1" y1="0" y2="0">
<stop offset="0.0000" stop-color="#e22a40"/><stop offset="0.2925" stop-color="#e53a4e"/><stop offset="0.3157" stop-color="#e8708a"/><stop offset="0.3468" stop-color="#ee90a8"/><stop offset="0.3701" stop-color="#f4bcd0"/><stop offset="0.6377" stop-color="#f4c2d6"/><stop offset="0.6532" stop-color="#d8d4f0"/><stop offset="0.8239" stop-color="#c8c4ec"/><stop offset="0.8472" stop-color="#6a5cc0"/><stop offset="1.0000" stop-color="#4a40a8"/></linearGradient>
</defs>
<rect x="18.8" y="491.0" width="122.8" height="80.6" fill="#ffffff" stroke="none" stroke-width="0"/>
<line x1="18.8" y1="493.3" x2="141.6" y2="493.3" stroke="#e4e4e4" stroke-width="0.6"/>
<line x1="18.8" y1="547.7" x2="141.6" y2="547.7" stroke="#e6e6e6" stroke-width="0.6"/>
<rect x="28.7" y="549.0" width="1.1000000000000014" height="18.600000000000023" fill="#9a9a9a" stroke="none" stroke-width="0"/>
<rect x="32.6" y="549.0" width="1.1000000000000014" height="18.600000000000023" fill="#9a9a9a" stroke="none" stroke-width="0"/>
<rect x="34.8" y="549.0" width="2.0" height="18.600000000000023" fill="#6a6a6a" stroke="none" stroke-width="0"/>
<rect x="39.9" y="549.0" width="1.1000000000000014" height="18.600000000000023" fill="#b0b0b0" stroke="none" stroke-width="0"/>
<rect x="42.9" y="549.0" width="1.7000000000000028" height="18.600000000000023" fill="#6a6a6a" stroke="none" stroke-width="0"/>
<rect x="49.9" y="549.0" width="1.1000000000000014" height="18.600000000000023" fill="#9a9a9a" stroke="none" stroke-width="0"/>
<rect x="51.6" y="549.0" width="1.6000000000000014" height="18.600000000000023" fill="#9a9a9a" stroke="none" stroke-width="0"/>
<rect x="53.8" y="549.0" width="2.200000000000003" height="18.600000000000023" fill="#333" stroke="none" stroke-width="0"/>
<rect x="56.6" y="549.0" width="3.299999999999997" height="18.600000000000023" fill="#9a9a9a" stroke="none" stroke-width="0"/>
<rect x="63.8" y="549.0" width="2.200000000000003" height="18.600000000000023" fill="#333" stroke="none" stroke-width="0"/>
<rect x="97.8" y="549.0" width="2.299999999999997" height="18.600000000000023" fill="#111" stroke="none" stroke-width="0"/>
<rect x="100.1" y="549.0" width="4.1000000000000085" height="18.600000000000023" fill="#8a8a8a" stroke="none" stroke-width="0"/>
<rect x="105.3" y="549.0" width="1.2000000000000028" height="18.600000000000023" fill="#333" stroke="none" stroke-width="0"/>
<rect x="106.5" y="549.0" width="1.4000000000000057" height="18.600000000000023" fill="#b5b5b5" stroke="none" stroke-width="0"/>
<rect x="107.9" y="549.0" width="1.0" height="18.600000000000023" fill="#333" stroke="none" stroke-width="0"/>
<rect x="108.9" y="549.0" width="2.299999999999997" height="18.600000000000023" fill="#777" stroke="none" stroke-width="0"/>
<rect x="111.2" y="549.0" width="2.700000000000003" height="18.600000000000023" fill="#2a2a2a" stroke="none" stroke-width="0"/>
<rect x="115.8" y="549.0" width="2.299999999999997" height="18.600000000000023" fill="#2a2a2a" stroke="none" stroke-width="0"/>
<rect x="118.1" y="549.0" width="2.3000000000000114" height="18.600000000000023" fill="#888" stroke="none" stroke-width="0"/>
<rect x="120.4" y="549.0" width="1.3999999999999915" height="18.600000000000023" fill="#444" stroke="none" stroke-width="0"/>
<rect x="122.7" y="549.0" width="3.299999999999997" height="18.600000000000023" fill="#1a1a1a" stroke="none" stroke-width="0"/>
<rect x="126" y="549.0" width="3.1999999999999886" height="18.600000000000023" fill="#3a3a3a" stroke="none" stroke-width="0"/>
<rect x="129.2" y="549.0" width="1.3000000000000114" height="18.600000000000023" fill="#aaa" stroke="none" stroke-width="0"/>
<rect x="130.5" y="549.0" width="11.0" height="18.600000000000023" fill="#111" stroke="none" stroke-width="0"/>
<rect x="18.8" y="567.6" width="122.8" height="4.0" fill="url(#cb1)" stroke="none" stroke-width="0"/>
<polyline points="19.3,493.7 85,529.6 96.5,534.8 108,541 115,544 123,545.6 126.5,541.8 130,538.7 132.3,533.6 133.4,526 135.7,515.7 139.2,500.7 141.2,493" fill="none" stroke="#6fbe44" stroke-width="0.9"/>
<rect x="18.8" y="491.0" width="122.8" height="80.6" fill="none" stroke="#111" stroke-width="1.3"/>
<text x="89.8" y="503.8" font-size="8.5" textLength="44.2" lengthAdjust="spacingAndGlyphs" style="stroke:#1a1a1a;stroke-width:0.08px" fill="#1a1a1a">NES: −2.70</text>
<text x="89.8" y="511.90000000000003" font-size="8.5" textLength="41.3" lengthAdjust="spacingAndGlyphs" style="stroke:#1a1a1a;stroke-width:0.08px" fill="#1a1a1a">FDR:&#160;&#160;0.00</text>
<text x="89.8" y="519.9" font-size="8.5" fill="#1a1a1a" stroke="#1a1a1a" stroke-width="0.08" textLength="44.8" lengthAdjust="spacingAndGlyphs"><tspan font-style="italic">P</tspan>-value: .00</text>
<rect x="18.3" y="626.4" width="128.9" height="80.2" fill="#ffffff" stroke="none" stroke-width="0"/>
<line x1="18.3" y1="628.6999999999999" x2="147.20000000000002" y2="628.6999999999999" stroke="#e4e4e4" stroke-width="0.6"/>
<line x1="18.3" y1="682.8000000000001" x2="147.20000000000002" y2="682.8000000000001" stroke="#e6e6e6" stroke-width="0.6"/>
<rect x="22" y="684.1" width="1.6999999999999993" height="17.799999999999955" fill="#9a9a9a" stroke="none" stroke-width="0"/>
<rect x="25.3" y="684.1" width="0.8999999999999986" height="17.799999999999955" fill="#9a9a9a" stroke="none" stroke-width="0"/>
<rect x="26.9" y="684.1" width="1.1000000000000014" height="17.799999999999955" fill="#9a9a9a" stroke="none" stroke-width="0"/>
<rect x="34.3" y="684.1" width="1.7000000000000028" height="17.799999999999955" fill="#9a9a9a" stroke="none" stroke-width="0"/>
<rect x="37.5" y="684.1" width="1.2999999999999972" height="17.799999999999955" fill="#9a9a9a" stroke="none" stroke-width="0"/>
<rect x="42.6" y="684.1" width="2.799999999999997" height="17.799999999999955" fill="#8a8a8a" stroke="none" stroke-width="0"/>
<rect x="47.6" y="684.1" width="0.8999999999999986" height="17.799999999999955" fill="#9a9a9a" stroke="none" stroke-width="0"/>
<rect x="50.2" y="684.1" width="3.3999999999999986" height="17.799999999999955" fill="#8a8a8a" stroke="none" stroke-width="0"/>
<rect x="56" y="684.1" width="2.3999999999999986" height="17.799999999999955" fill="#777" stroke="none" stroke-width="0"/>
<rect x="59.3" y="684.1" width="2.9000000000000057" height="17.799999999999955" fill="#151515" stroke="none" stroke-width="0"/>
<rect x="63.2" y="684.1" width="1.3999999999999915" height="17.799999999999955" fill="#888" stroke="none" stroke-width="0"/>
<rect x="64.6" y="684.1" width="3.4000000000000057" height="17.799999999999955" fill="#333" stroke="none" stroke-width="0"/>
<rect x="71.8" y="684.1" width="1.5" height="17.799999999999955" fill="#aaa" stroke="none" stroke-width="0"/>
<rect x="80.5" y="684.1" width="1.4000000000000057" height="17.799999999999955" fill="#bbb" stroke="none" stroke-width="0"/>
<rect x="93" y="684.1" width="1.4000000000000057" height="17.799999999999955" fill="#999" stroke="none" stroke-width="0"/>
<rect x="97.3" y="684.1" width="1.5" height="17.799999999999955" fill="#bbb" stroke="none" stroke-width="0"/>
<rect x="100.9" y="684.1" width="1.8999999999999915" height="17.799999999999955" fill="#222" stroke="none" stroke-width="0"/>
<rect x="102.8" y="684.1" width="2.4000000000000057" height="17.799999999999955" fill="#666" stroke="none" stroke-width="0"/>
<rect x="106.2" y="684.1" width="2.3999999999999915" height="17.799999999999955" fill="#333" stroke="none" stroke-width="0"/>
<rect x="108.6" y="684.1" width="4.800000000000011" height="17.799999999999955" fill="#777" stroke="none" stroke-width="0"/>
<rect x="113.4" y="684.1" width="2.3999999999999915" height="17.799999999999955" fill="#222" stroke="none" stroke-width="0"/>
<rect x="115.8" y="684.1" width="1.4000000000000057" height="17.799999999999955" fill="#777" stroke="none" stroke-width="0"/>
<rect x="117.2" y="684.1" width="1.5" height="17.799999999999955" fill="#222" stroke="none" stroke-width="0"/>
<rect x="120.1" y="684.1" width="3.9000000000000057" height="17.799999999999955" fill="#555" stroke="none" stroke-width="0"/>
<rect x="124" y="684.1" width="0.9000000000000057" height="17.799999999999955" fill="#111" stroke="none" stroke-width="0"/>
<rect x="126.4" y="684.1" width="19.799999999999983" height="17.799999999999955" fill="#111" stroke="none" stroke-width="0"/>
<rect x="18.3" y="701.9" width="128.9" height="4.7000000000000455" fill="url(#cb2)" stroke="none" stroke-width="0"/>
<polyline points="18.8,629.2 90,665.8 101.5,671.6 113.1,678.5 126.9,680.4 133.8,671.6 137.9,663.5 140.2,654.3 142.5,643.9 144.8,633.5 146.6,627" fill="none" stroke="#6fbe44" stroke-width="0.9"/>
<rect x="18.3" y="626.4" width="128.9" height="80.2" fill="none" stroke="#111" stroke-width="1.3"/>
<text x="94.6" y="636.6" font-size="8.5" textLength="44.2" lengthAdjust="spacingAndGlyphs" style="stroke:#1a1a1a;stroke-width:0.08px" fill="#1a1a1a">NES: −2.86</text>
<text x="94.6" y="644.7" font-size="8.5" textLength="41.3" lengthAdjust="spacingAndGlyphs" style="stroke:#1a1a1a;stroke-width:0.08px" fill="#1a1a1a">FDR:&#160;&#160;0.00</text>
<text x="94.6" y="652.7" font-size="8.5" fill="#1a1a1a" stroke="#1a1a1a" stroke-width="0.08" textLength="44.8" lengthAdjust="spacingAndGlyphs"><tspan font-style="italic">P</tspan>-value: .00</text>
<text x="19.4" y="584.0" font-size="8.6" textLength="39.2" lengthAdjust="spacingAndGlyphs" fill="#d0284a" stroke="#d0284a" stroke-width="0.2">shHASPIN</text>
<text x="103.7" y="584.0" font-size="8.6" textLength="37.5" lengthAdjust="spacingAndGlyphs" fill="#2f5ea8" stroke="#2f5ea8" stroke-width="0.2">shControl</text>
<text x="18.4" y="718.7" font-size="8.6" textLength="39.6" lengthAdjust="spacingAndGlyphs" fill="#d0284a" stroke="#d0284a" stroke-width="0.2">shHASPIN</text>
<text x="110.4" y="718.7" font-size="8.6" textLength="36.6" lengthAdjust="spacingAndGlyphs" fill="#2f5ea8" stroke="#2f5ea8" stroke-width="0.2">shControl</text>
<rect x="0" y="0" width="520" height="1" fill="#4a4a4a"/><rect x="0" y="0" width="1" height="728" fill="#4a4a4a"/><rect x="518.6" y="0" width="1.4" height="728" fill="#383838"/><rect x="0" y="726.6" width="520" height="1.4" fill="#383838"/>
</svg>
</body></html>
